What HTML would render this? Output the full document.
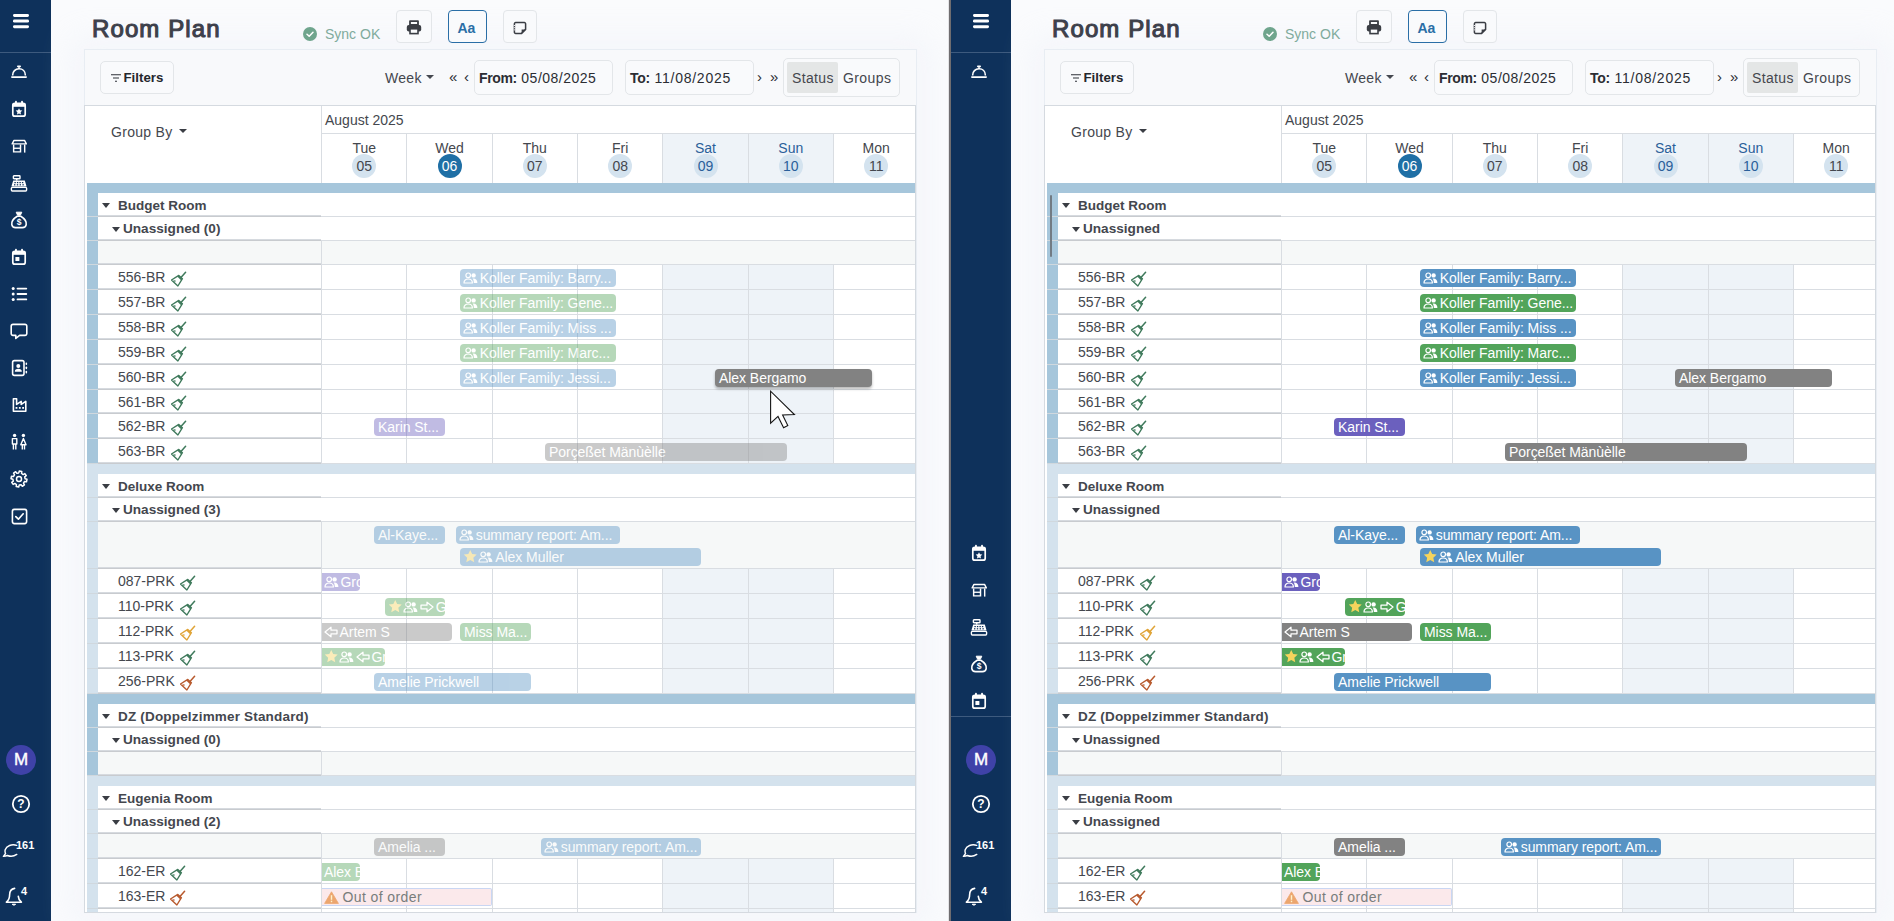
<!DOCTYPE html>
<html lang="en"><head><meta charset="utf-8"><title>Room Plan</title>
<style>
*{box-sizing:border-box;margin:0;padding:0}
html,body{width:1894px;height:921px;overflow:hidden;background:#fafbfd;font-family:"Liberation Sans",sans-serif;color:#44474e;font-size:14px}
.pane{position:absolute;top:0;width:958px;height:921px;overflow:visible}
.a{position:absolute}
.sb{position:absolute;left:-9px;top:0;width:60px;height:921px;background:#0e315b}
.sbl{position:absolute;left:0;width:60px;height:1px;background:#3d5a7e}
.ic{position:absolute;display:block}
.ic svg{display:block}
.t{position:absolute;white-space:nowrap;line-height:20px;height:20px}
.b{font-weight:700}
.btn{position:absolute;border:1px solid #e3e6e9;border-radius:4px;background:#f9fafc}
.card{position:absolute;left:84px;top:49px;width:833px;height:864px;background:#f8f9fb;border:1px solid #e8edf3;box-shadow:0 0 30px 12px rgba(232,236,244,.3)}
.tbl{position:absolute;left:84px;top:105px;width:832px;height:808px;background:#fff;border:1px solid #d5dae0;overflow:hidden}
.in{position:absolute;left:-85px;top:-106px;width:1000px;height:921px}
.hl{position:absolute;height:1px;background:#d9dde2}
.hl2{position:absolute;height:2px;background:linear-gradient(to bottom,#d6dadf 0,#d6dadf 1px,#c8cbcf 1px,#c8cbcf 2px)}
.hl2:before{content:'';position:absolute;left:-11px;top:1px;width:11px;height:1px;background:#d0d8de}
.vl{position:absolute;width:1px;background:#d9dde2}
.bar{position:absolute;height:18px;border-radius:4px;color:#fff;font-size:14px;line-height:19px;white-space:nowrap;overflow:hidden;padding-left:4px;letter-spacing:-.05px}
.bar svg{display:inline-block;vertical-align:-1px;margin-right:2px;margin-left:-.5px}
.bar .s{vertical-align:-1.5px;margin-right:1px;margin-left:0}
.fade .bar{opacity:.42}
.fade .bar.hot{opacity:1;box-shadow:0 2px 3px rgba(0,0,0,.28)}
.fade .bar.ooo{opacity:1}
.num{position:absolute;width:24px;height:24px;border-radius:50%;background:#d4e3ef;font-size:14px;line-height:24px;text-align:center}
.num.on{background:#1f6fa5;color:#fff}
.dn{position:absolute;width:86px;text-align:center;font-size:14px;line-height:16px}
.we{color:#2a5f9a}
.car{position:absolute;width:0;height:0;border-left:4px solid transparent;border-right:4px solid transparent;border-top:5px solid #3a3d44}
</style></head><body>
<div class="pane fade" style="left:0px">
<div class="sb">
<div class="sbl" style="top:52px"></div>
<span class="ic" style="left:21.0px;top:13.0px;width:18px;height:16px"><svg width="18" height="16" viewBox="0 0 18 16" style=""><rect x="1" y="1" width="16" height="3" rx="1.4" fill="#fff"/><rect x="1" y="6.6" width="16" height="3" rx="1.4" fill="#fff"/><rect x="1" y="12.2" width="16" height="3" rx="1.4" fill="#fff"/></svg></span>
<span class="ic" style="left:19.0px;top:64.0px;width:18px;height:16px"><svg width="18" height="16" viewBox="0 0 18 16" style=""><path d="M2.6 11.4 C2.6 7.4 5.4 4.8 9 4.8 C12.6 4.8 15.4 7.4 15.4 11.4" fill="none" stroke="#fff" stroke-width="1.6"/><rect x="1" y="12.2" width="16" height="1.7" rx=".8" fill="#fff"/><rect x="7" y="1.6" width="4" height="1.6" rx=".8" fill="#fff"/><rect x="8.3" y="2" width="1.4" height="3" fill="#fff"/></svg></span>
<span class="ic" style="left:20.0px;top:100.0px;width:16px;height:18px"><svg width="16" height="18" viewBox="0 0 16 18" style=""><rect x="1.8" y="3.4" width="12.4" height="12.8" rx="2" fill="none" stroke="#fff" stroke-width="1.7"/><rect x="1.8" y="3.4" width="12.4" height="3.4" fill="#fff"/><rect x="4" y="0.8" width="1.9" height="4" rx=".9" fill="#fff"/><rect x="10.1" y="0.8" width="1.9" height="4" rx=".9" fill="#fff"/><path d="M8 8.2l1 2.1 2.3.3-1.7 1.6.4 2.3L8 13.4l-2 1.1.4-2.3-1.7-1.6 2.3-.3z" fill="#fff"/></svg></span>
<span class="ic" style="left:19.8px;top:138.8px;width:16.5px;height:14.5px"><svg width="16.5" height="14.5" viewBox="0 0 18 16" style=""><path d="M3.2 1.6 H14.8 L16.8 5.4 H1.2 Z" fill="none" stroke="#fff" stroke-width="1.6" stroke-linejoin="round"/><path d="M2.8 6 V14.2 H10.4 V6" fill="none" stroke="#fff" stroke-width="1.6"/><path d="M2.8 10.2 H10.4" stroke="#fff" stroke-width="1.5"/><path d="M15 6 V15" stroke="#fff" stroke-width="1.6"/></svg></span>
<span class="ic" style="left:19.0px;top:174.5px;width:18px;height:17px"><svg width="18" height="17" viewBox="0 0 18 17" style=""><rect x="3.4" y="0.8" width="6.6" height="3" rx=".6" fill="none" stroke="#fff" stroke-width="1.4"/><rect x="5.9" y="3.6" width="1.6" height="2" fill="#fff"/><path d="M3.2 5.6 H14.8 L16.6 11.6 H1.4 Z" fill="#fff"/><rect x="1.4" y="12.4" width="15.2" height="3.6" rx=".9" fill="none" stroke="#fff" stroke-width="1.4"/><g fill="#0e315b"><rect x="4.4" y="7" width="1.4" height="1.2"/><rect x="6.9" y="7" width="1.4" height="1.2"/><rect x="9.4" y="7" width="1.4" height="1.2"/><rect x="11.9" y="7" width="1.4" height="1.2"/><rect x="4" y="9.2" width="1.4" height="1.2"/><rect x="6.8" y="9.2" width="1.4" height="1.2"/><rect x="9.6" y="9.2" width="1.4" height="1.2"/><rect x="12.4" y="9.2" width="1.4" height="1.2"/></g></svg></span>
<span class="ic" style="left:19.0px;top:211.0px;width:18px;height:18px"><svg width="18" height="18" viewBox="0 0 18 18" style=""><path d="M6.2 1.2 H11.8 L10.4 4.2 H7.6 Z" fill="#fff" stroke="#fff" stroke-width="1" stroke-linejoin="round"/><path d="M7.2 5.2 C3.4 7.6 1.4 11 1.8 13.6 C2.1 15.6 3.6 16.6 5.6 16.6 H12.4 C14.4 16.6 15.9 15.6 16.2 13.6 C16.6 11 14.6 7.6 10.8 5.2 Z" fill="none" stroke="#fff" stroke-width="1.6" stroke-linejoin="round"/><text x="9" y="14.4" font-family="Liberation Sans, sans-serif" font-weight="700" font-size="8.5" text-anchor="middle" fill="#fff">$</text></svg></span>
<span class="ic" style="left:20.0px;top:248.0px;width:16px;height:18px"><svg width="16" height="18" viewBox="0 0 16 18" style=""><rect x="1.8" y="3.4" width="12.4" height="12.8" rx="2" fill="none" stroke="#fff" stroke-width="1.7"/><rect x="1.8" y="3.4" width="12.4" height="3.4" fill="#fff"/><rect x="4" y="0.8" width="1.9" height="4" rx=".9" fill="#fff"/><rect x="10.1" y="0.8" width="1.9" height="4" rx=".9" fill="#fff"/><rect x="4.4" y="9" width="4" height="4" rx=".5" fill="#fff"/></svg></span>
<span class="ic" style="left:19.5px;top:286.0px;width:17px;height:16px"><svg width="17" height="16" viewBox="0 0 17 16" style=""><circle cx="2.2" cy="2.6" r="1.5" fill="#fff"/><rect x="5.6" y="1.7000000000000002" width="10.6" height="1.8" rx=".9" fill="#fff"/><circle cx="2.2" cy="8" r="1.5" fill="#fff"/><rect x="5.6" y="7.1" width="10.6" height="1.8" rx=".9" fill="#fff"/><circle cx="2.2" cy="13.4" r="1.5" fill="#fff"/><rect x="5.6" y="12.5" width="10.6" height="1.8" rx=".9" fill="#fff"/></svg></span>
<span class="ic" style="left:19.0px;top:322.5px;width:18px;height:17px"><svg width="18" height="17" viewBox="0 0 18 17" style=""><path d="M3 1.4 H15 A1.8 1.8 0 0 1 16.8 3.2 V10.6 A1.8 1.8 0 0 1 15 12.4 H9.6 L5.8 15.4 V12.4 H3 A1.8 1.8 0 0 1 1.2 10.6 V3.2 A1.8 1.8 0 0 1 3 1.4 Z" fill="none" stroke="#fff" stroke-width="1.6" stroke-linejoin="round"/></svg></span>
<span class="ic" style="left:19.5px;top:359.0px;width:17px;height:18px"><svg width="17" height="18" viewBox="0 0 17 18" style=""><rect x="1.6" y="1.6" width="11.4" height="14.8" rx="1.8" fill="none" stroke="#fff" stroke-width="1.6"/><circle cx="7.3" cy="7" r="2" fill="#fff"/><path d="M3.8 12.8 C3.8 10.6 5.2 9.8 7.3 9.8 C9.4 9.8 10.8 10.6 10.8 12.8 Z" fill="#fff"/><rect x="14.6" y="3.4" width="1.5" height="2.6" rx=".7" fill="#fff"/><rect x="14.6" y="7.6" width="1.5" height="2.6" rx=".7" fill="#fff"/><rect x="14.6" y="11.8" width="1.5" height="2.6" rx=".7" fill="#fff"/></svg></span>
<span class="ic" style="left:19.5px;top:397.0px;width:17px;height:16px"><svg width="17" height="16" viewBox="0 0 17 16" style=""><path d="M1.4 1.8 H4.6 V7.4 L9.2 4.4 V7.4 L13.8 4.4 V14.2 H1.4 Z" fill="none" stroke="#fff" stroke-width="1.6" stroke-linejoin="round" transform="translate(1,0)"/><rect x="4.6" y="10" width="1.8" height="1.8" fill="#fff"/><rect x="7.9" y="10" width="1.8" height="1.8" fill="#fff"/><rect x="11.2" y="10" width="1.8" height="1.8" fill="#fff"/></svg></span>
<span class="ic" style="left:19.0px;top:433.0px;width:18px;height:18px"><svg width="18" height="18" viewBox="0 0 18 18" style=""><circle cx="4.6" cy="2.4" r="1.7" fill="#fff"/><circle cx="13.4" cy="2.4" r="1.7" fill="#fff"/><path d="M2.4 5.6 H6.8 V11 H2.4 Z M3.4 11 V16.6 M5.8 11 V16.6" fill="none" stroke="#fff" stroke-width="1.4" stroke-linejoin="round"/><path d="M13.4 5.4 L16 11.8 H10.8 Z M12.3 12 V16.6 M14.5 12 V16.6" fill="none" stroke="#fff" stroke-width="1.4" stroke-linejoin="round"/></svg></span>
<span class="ic" style="left:19.0px;top:470.0px;width:18px;height:18px"><svg width="18" height="18" viewBox="0 0 18 18" style=""><path d="M16.99 9.29 L16.50 11.79 L14.55 11.54 L13.47 13.15 L14.45 14.86 L12.33 16.27 L11.13 14.72 L9.22 15.10 L8.71 16.99 L6.21 16.50 L6.46 14.55 L4.85 13.47 L3.14 14.45 L1.73 12.33 L3.28 11.13 L2.90 9.22 L1.01 8.71 L1.50 6.21 L3.45 6.46 L4.53 4.85 L3.55 3.14 L5.67 1.73 L6.87 3.28 L8.78 2.90 L9.29 1.01 L11.79 1.50 L11.54 3.45 L13.15 4.53 L14.86 3.55 L16.27 5.67 L14.72 6.87 L15.10 8.78 Z" fill="none" stroke="#fff" stroke-width="1.5" stroke-linejoin="round"/><circle cx="9" cy="9" r="2.5" fill="none" stroke="#fff" stroke-width="1.5"/></svg></span>
<span class="ic" style="left:19.5px;top:507.5px;width:17px;height:17px"><svg width="17" height="17" viewBox="0 0 17 17" style=""><rect x="1.4" y="1.4" width="14.2" height="14.2" rx="2" fill="none" stroke="#fff" stroke-width="1.6"/><path d="M4.8 8.6 L7.4 11.2 L12.2 5.8" fill="none" stroke="#fff" stroke-width="1.7" stroke-linecap="round" stroke-linejoin="round"/></svg></span>
<div class="a" style="left:15px;top:745px;width:30px;height:30px;border-radius:50%;background:#3f42a8;color:#fff;font-size:17px;line-height:30px;text-align:center;-webkit-text-stroke:.4px #fff">M</div>
<span class="ic" style="left:20.0px;top:794.0px;width:20px;height:20px"><svg width="20" height="20" viewBox="0 0 20 20" style=""><circle cx="10" cy="10" r="8.2" fill="none" stroke="#fff" stroke-width="1.8"/><text x="10" y="14.4" font-family="Liberation Sans, sans-serif" font-weight="700" font-size="12" text-anchor="middle" fill="#fff">?</text></svg></span>
<span class="ic" style="left:10.5px;top:843.0px;width:16px;height:15px"><svg width="16" height="15" viewBox="0 0 18 16" style=""><path d="M16.5 2.2 C11 0.6 5 2.6 3.6 7.2 C3.2 8.8 3.4 10.2 4 11.4 L1.6 14.6 C4 14.6 5.2 14.2 6.2 13.6 C9.4 15 13.4 14.6 16.6 12.4" fill="none" stroke="#fff" stroke-width="1.6" stroke-linecap="round" stroke-linejoin="round"/></svg></span>
<div class="t b" style="left:25px;top:835px;font-size:11px;color:#fff">161</div>
<span class="ic" style="left:14.0px;top:887.0px;width:18px;height:20px"><svg width="18" height="20" viewBox="0 0 18 20" style=""><path d="M9.6 1.4 C6 2 4.6 4.8 4.6 8 C4.6 11.6 3.4 13.6 1.4 15.2 H16.4 C14.4 13.6 13.4 11.8 13.3 9.4" fill="none" stroke="#fff" stroke-width="1.6" stroke-linecap="round" stroke-linejoin="round"/><path d="M7.2 17.2 C7.6 18.4 10.2 18.4 10.6 17.2 Z" fill="#fff" stroke="#fff" stroke-width="1"/></svg></span>
<div class="t b" style="left:30px;top:881px;font-size:11px;color:#fff">4</div>
</div>
<div class="card"></div>
<div class="t" style="left:92px;top:14px;height:30px;line-height:30px;font-size:24px;font-weight:400;color:#3d404b;letter-spacing:1.1px;-webkit-text-stroke:1.1px #3d404b">Room Plan</div>
<span class="ic" style="left:303.0px;top:26.5px;width:14px;height:14px"><svg width="14" height="14" viewBox="0 0 14 14" style=""><circle cx="7" cy="7" r="7" fill="#6fa58d"/><path d="M4 7.2 L6.2 9.3 L10 5.2" fill="none" stroke="#fff" stroke-width="1.5" stroke-linecap="round" stroke-linejoin="round"/></svg></span>
<div class="t " style="left:325px;top:24px;font-size:14px;color:#80ab9c">Sync OK</div>
<div class="btn" style="left:396px;top:10px;width:36px;height:33px"></div>
<span class="ic" style="left:406.0px;top:19.5px;width:16px;height:15px"><svg width="16" height="15" viewBox="0 0 16 15" style=""><path d="M4 1.2 H12 V5 H4 Z" fill="none" stroke="#3a3d44" stroke-width="1.8" stroke-linejoin="round"/><rect x="0.8" y="5" width="14.4" height="6.6" rx="2" fill="#3a3d44"/><rect x="4" y="8.8" width="8" height="4.8" fill="#f9fafc" stroke="#3a3d44" stroke-width="1.6"/></svg></span>
<div class="btn" style="left:448px;top:10px;width:39px;height:33px;border:1.5px solid #2a6ea6;border-radius:4px"></div>
<div class="t b" style="left:457.5px;top:17.5px;font-size:14px;color:#2a6ea6">Aa</div>
<div class="btn" style="left:503px;top:10px;width:34px;height:33px"></div>
<span class="ic" style="left:513.0px;top:21.0px;width:14px;height:14px"><svg width="14" height="14" viewBox="0 0 14 14" style=""><path d="M2.6 1.6 H11.4 A1.2 1.2 0 0 1 12.6 2.8 V8.4 L8.6 12.4 H2.6 A1.2 1.2 0 0 1 1.4 11.2 V2.8 A1.2 1.2 0 0 1 2.6 1.6 Z" fill="none" stroke="#3a3d44" stroke-width="1.5" stroke-linejoin="round"/><path d="M12.6 8.4 H8.6 V12.4 Z" fill="#3a3d44"/><path d="M1.4 4 V10" stroke="#f9fafc" stroke-width="1" stroke-dasharray="1 1.2"/></svg></span>
<div class="btn" style="left:100px;top:61px;width:74px;height:33px;border-radius:5px"></div>
<span class="ic" style="left:111.0px;top:73.5px;width:10px;height:8px"><svg width="10" height="8" viewBox="0 0 10 8" style=""><path d="M0 0.8 H10 M2 4 H8 M4 7.2 H6" stroke="#2f3238" stroke-width="1.1" fill="none"/></svg></span>
<div class="t b" style="left:123.5px;top:68.3px;font-size:13.3px;color:#25272d">Filters</div>
<div class="t " style="left:385px;top:68px;font-size:14px;letter-spacing:.3px">Week</div>
<div class="car" style="left:426px;top:75px;border-top-color:#45484f;border-top-width:4.5px"></div>
<div class="t " style="left:449px;top:66.5px;font-size:15px;color:#2b2d33">«</div>
<div class="t " style="left:464px;top:66.5px;font-size:15px;color:#2b2d33">‹</div>
<div class="btn" style="left:474px;top:60px;width:139px;height:35px;border-radius:5px"></div>
<div class="t" style="left:479px;top:68px;font-size:14px;color:#2b2d33;letter-spacing:.5px"><b style="letter-spacing:-.35px">From:</b> 05/08/2025</div>
<div class="btn" style="left:625px;top:60px;width:129px;height:35px;border-radius:5px"></div>
<div class="t" style="left:630px;top:68px;font-size:14px;color:#2b2d33;letter-spacing:.75px"><b style="letter-spacing:-.3px">To:</b> 11/08/2025</div>
<div class="t " style="left:757px;top:66.5px;font-size:15px;color:#2b2d33">›</div>
<div class="t " style="left:770px;top:66.5px;font-size:15px;color:#2b2d33">»</div>
<div class="btn" style="left:783px;top:58px;width:117px;height:39px;border-radius:5px"></div>
<div class="a" style="left:787px;top:62px;width:51px;height:31px;background:#e4e6e6;border-radius:2px"></div>
<div class="t " style="left:792px;top:68px;font-size:14px;letter-spacing:.35px">Status</div>
<div class="t " style="left:843px;top:68px;font-size:14px;letter-spacing:.4px">Groups</div>
<div class="tbl"><div class="in">
<div class="t " style="left:111px;top:122px;font-size:14px;letter-spacing:.3px">Group By</div>
<div class="car" style="left:179px;top:129px;border-top-width:4.5px"></div>
<div class="vl" style="left:321px;top:106px;height:77px"></div>
<div class="t " style="left:325px;top:109.5px;font-size:14px;">August 2025</div>
<div class="hl" style="left:321px;top:133px;width:600px"></div>
<div class="a" style="left:663.0px;top:134px;width:170.3px;height:49px;background:#eef3f8"></div>
<div class="dn" style="left:321.2px;top:140px">Tue</div>
<div class="num" style="left:352.2px;top:154px">05</div>
<div class="dn" style="left:406.5px;top:140px">Wed</div>
<div class="num on" style="left:437.5px;top:154px">06</div>
<div class="vl" style="left:406px;top:134px;height:49px"></div>
<div class="dn" style="left:491.8px;top:140px">Thu</div>
<div class="num" style="left:522.8px;top:154px">07</div>
<div class="vl" style="left:492px;top:134px;height:49px"></div>
<div class="dn" style="left:577.2px;top:140px">Fri</div>
<div class="num" style="left:608.2px;top:154px">08</div>
<div class="vl" style="left:577px;top:134px;height:49px"></div>
<div class="dn we" style="left:662.5px;top:140px">Sat</div>
<div class="num we" style="left:693.5px;top:154px">09</div>
<div class="vl" style="left:662px;top:134px;height:49px"></div>
<div class="dn we" style="left:747.8px;top:140px">Sun</div>
<div class="num we" style="left:778.8px;top:154px">10</div>
<div class="vl" style="left:748px;top:134px;height:49px"></div>
<div class="dn" style="left:833.2px;top:140px">Mon</div>
<div class="num" style="left:864.2px;top:154px">11</div>
<div class="vl" style="left:833px;top:134px;height:49px"></div>
<div class="a" style="left:87px;top:183px;width:840px;height:10px;background:#a6c6db"></div>
<div class="a" style="left:87px;top:193px;width:11px;height:271px;background:#a6c6db"></div>
<div class="car" style="left:102px;top:203px"></div>
<div class="t b" style="left:118px;top:195.5px;font-size:13.5px;letter-spacing:0px">Budget Room</div>
<div class="hl2" style="left:98px;top:215px;width:223px"></div>
<div class="hl" style="left:321px;top:216px;width:600px"></div>
<div class="car" style="left:112px;top:227px"></div>
<div class="t b" style="left:123px;top:219px;font-size:13.6px;">Unassigned (0)</div>
<div class="hl2" style="left:98px;top:239px;width:223px"></div>
<div class="hl" style="left:321px;top:240px;width:600px"></div>
<div class="a" style="left:98px;top:241px;width:830px;height:23px;background:#f6f8f8"></div>
<div class="vl" style="left:321px;top:241px;height:24px"></div>
<div class="hl2" style="left:98px;top:263px;width:223px"></div>
<div class="hl" style="left:321px;top:264px;width:600px"></div>
<div class="a" style="left:663.0px;top:265px;width:170.3px;height:198px;background:#eef3f8"></div>
<div class="vl" style="left:321px;top:265px;height:198px"></div>
<div class="vl" style="left:406px;top:265px;height:198px"></div>
<div class="vl" style="left:492px;top:265px;height:198px"></div>
<div class="vl" style="left:577px;top:265px;height:198px"></div>
<div class="vl" style="left:662px;top:265px;height:198px"></div>
<div class="vl" style="left:748px;top:265px;height:198px"></div>
<div class="vl" style="left:833px;top:265px;height:198px"></div>
<div class="t" style="left:118px;top:267.0px;font-size:14px">556-BR</div>
<span class="ic" style="left:170.5px;top:270.5px;width:16px;height:16px"><svg width="16" height="16" viewBox="0 0 16 16" style=""><path d="M14.6 1.2 L10.4 6" stroke="#3f7a5c" stroke-width="1.5" stroke-linecap="round" fill="none"/><path d="M7.8 4.4 L11.4 7.7 L6.9 15 L0.5 9 Z" fill="none" stroke="#3f7a5c" stroke-width="1.4" stroke-linejoin="round"/><path d="M7.8 4.4 L11.4 7.7 L10.3 9.6 L6.2 5.6 Z" fill="#3f7a5c"/><path d="M2.6 9.8 L4.6 10.2" stroke="#3f7a5c" stroke-width="1.2" fill="none"/></svg></span>
<div class="hl2" style="left:98px;top:288px;width:223px"></div>
<div class="hl" style="left:321px;top:289px;width:600px"></div>
<div class="bar " style="left:460px;top:269px;width:156px;background:#5893c4;padding-left:3.2px;"><svg width="15" height="12" viewBox="0 0 15 12" style=""><circle cx="5.2" cy="3.3" r="2.3" fill="none" stroke="#fff" stroke-width="1.2"/><path d="M1 11 C1 8.2 2.8 7 5.2 7 C7.6 7 9.4 8.2 9.4 11 Z" fill="none" stroke="#fff" stroke-width="1.2" stroke-linejoin="round"/><circle cx="10.6" cy="3.4" r="2.2" fill="#fff"/><path d="M9.6 6.6 C12.6 6.2 14.4 8 14.4 11 L10.8 11 C10.8 9 10.4 7.6 9.6 6.6 Z" fill="#fff"/></svg>Koller Family: Barry...</div>
<div class="t" style="left:118px;top:292.0px;font-size:14px">557-BR</div>
<span class="ic" style="left:170.5px;top:295.5px;width:16px;height:16px"><svg width="16" height="16" viewBox="0 0 16 16" style=""><path d="M14.6 1.2 L10.4 6" stroke="#3f7a5c" stroke-width="1.5" stroke-linecap="round" fill="none"/><path d="M7.8 4.4 L11.4 7.7 L6.9 15 L0.5 9 Z" fill="none" stroke="#3f7a5c" stroke-width="1.4" stroke-linejoin="round"/><path d="M7.8 4.4 L11.4 7.7 L10.3 9.6 L6.2 5.6 Z" fill="#3f7a5c"/><path d="M2.6 9.8 L4.6 10.2" stroke="#3f7a5c" stroke-width="1.2" fill="none"/></svg></span>
<div class="hl2" style="left:98px;top:313px;width:223px"></div>
<div class="hl" style="left:321px;top:314px;width:600px"></div>
<div class="bar " style="left:460px;top:294px;width:156px;background:#52a45a;padding-left:3.2px;"><svg width="15" height="12" viewBox="0 0 15 12" style=""><circle cx="5.2" cy="3.3" r="2.3" fill="none" stroke="#fff" stroke-width="1.2"/><path d="M1 11 C1 8.2 2.8 7 5.2 7 C7.6 7 9.4 8.2 9.4 11 Z" fill="none" stroke="#fff" stroke-width="1.2" stroke-linejoin="round"/><circle cx="10.6" cy="3.4" r="2.2" fill="#fff"/><path d="M9.6 6.6 C12.6 6.2 14.4 8 14.4 11 L10.8 11 C10.8 9 10.4 7.6 9.6 6.6 Z" fill="#fff"/></svg>Koller Family: Gene...</div>
<div class="t" style="left:118px;top:317.0px;font-size:14px">558-BR</div>
<span class="ic" style="left:170.5px;top:320.5px;width:16px;height:16px"><svg width="16" height="16" viewBox="0 0 16 16" style=""><path d="M14.6 1.2 L10.4 6" stroke="#3f7a5c" stroke-width="1.5" stroke-linecap="round" fill="none"/><path d="M7.8 4.4 L11.4 7.7 L6.9 15 L0.5 9 Z" fill="none" stroke="#3f7a5c" stroke-width="1.4" stroke-linejoin="round"/><path d="M7.8 4.4 L11.4 7.7 L10.3 9.6 L6.2 5.6 Z" fill="#3f7a5c"/><path d="M2.6 9.8 L4.6 10.2" stroke="#3f7a5c" stroke-width="1.2" fill="none"/></svg></span>
<div class="hl2" style="left:98px;top:338px;width:223px"></div>
<div class="hl" style="left:321px;top:339px;width:600px"></div>
<div class="bar " style="left:460px;top:319px;width:156px;background:#5893c4;padding-left:3.2px;"><svg width="15" height="12" viewBox="0 0 15 12" style=""><circle cx="5.2" cy="3.3" r="2.3" fill="none" stroke="#fff" stroke-width="1.2"/><path d="M1 11 C1 8.2 2.8 7 5.2 7 C7.6 7 9.4 8.2 9.4 11 Z" fill="none" stroke="#fff" stroke-width="1.2" stroke-linejoin="round"/><circle cx="10.6" cy="3.4" r="2.2" fill="#fff"/><path d="M9.6 6.6 C12.6 6.2 14.4 8 14.4 11 L10.8 11 C10.8 9 10.4 7.6 9.6 6.6 Z" fill="#fff"/></svg>Koller Family: Miss ...</div>
<div class="t" style="left:118px;top:342.0px;font-size:14px">559-BR</div>
<span class="ic" style="left:170.5px;top:345.5px;width:16px;height:16px"><svg width="16" height="16" viewBox="0 0 16 16" style=""><path d="M14.6 1.2 L10.4 6" stroke="#3f7a5c" stroke-width="1.5" stroke-linecap="round" fill="none"/><path d="M7.8 4.4 L11.4 7.7 L6.9 15 L0.5 9 Z" fill="none" stroke="#3f7a5c" stroke-width="1.4" stroke-linejoin="round"/><path d="M7.8 4.4 L11.4 7.7 L10.3 9.6 L6.2 5.6 Z" fill="#3f7a5c"/><path d="M2.6 9.8 L4.6 10.2" stroke="#3f7a5c" stroke-width="1.2" fill="none"/></svg></span>
<div class="hl2" style="left:98px;top:363px;width:223px"></div>
<div class="hl" style="left:321px;top:364px;width:600px"></div>
<div class="bar " style="left:460px;top:344px;width:156px;background:#52a45a;padding-left:3.2px;"><svg width="15" height="12" viewBox="0 0 15 12" style=""><circle cx="5.2" cy="3.3" r="2.3" fill="none" stroke="#fff" stroke-width="1.2"/><path d="M1 11 C1 8.2 2.8 7 5.2 7 C7.6 7 9.4 8.2 9.4 11 Z" fill="none" stroke="#fff" stroke-width="1.2" stroke-linejoin="round"/><circle cx="10.6" cy="3.4" r="2.2" fill="#fff"/><path d="M9.6 6.6 C12.6 6.2 14.4 8 14.4 11 L10.8 11 C10.8 9 10.4 7.6 9.6 6.6 Z" fill="#fff"/></svg>Koller Family: Marc...</div>
<div class="t" style="left:118px;top:367.0px;font-size:14px">560-BR</div>
<span class="ic" style="left:170.5px;top:370.5px;width:16px;height:16px"><svg width="16" height="16" viewBox="0 0 16 16" style=""><path d="M14.6 1.2 L10.4 6" stroke="#3f7a5c" stroke-width="1.5" stroke-linecap="round" fill="none"/><path d="M7.8 4.4 L11.4 7.7 L6.9 15 L0.5 9 Z" fill="none" stroke="#3f7a5c" stroke-width="1.4" stroke-linejoin="round"/><path d="M7.8 4.4 L11.4 7.7 L10.3 9.6 L6.2 5.6 Z" fill="#3f7a5c"/><path d="M2.6 9.8 L4.6 10.2" stroke="#3f7a5c" stroke-width="1.2" fill="none"/></svg></span>
<div class="hl2" style="left:98px;top:388px;width:223px"></div>
<div class="hl" style="left:321px;top:389px;width:600px"></div>
<div class="bar " style="left:460px;top:369px;width:156px;background:#5893c4;padding-left:3.2px;"><svg width="15" height="12" viewBox="0 0 15 12" style=""><circle cx="5.2" cy="3.3" r="2.3" fill="none" stroke="#fff" stroke-width="1.2"/><path d="M1 11 C1 8.2 2.8 7 5.2 7 C7.6 7 9.4 8.2 9.4 11 Z" fill="none" stroke="#fff" stroke-width="1.2" stroke-linejoin="round"/><circle cx="10.6" cy="3.4" r="2.2" fill="#fff"/><path d="M9.6 6.6 C12.6 6.2 14.4 8 14.4 11 L10.8 11 C10.8 9 10.4 7.6 9.6 6.6 Z" fill="#fff"/></svg>Koller Family: Jessi...</div>
<div class="bar hot" style="left:715px;top:369px;width:157px;background:#828282;">Alex Bergamo</div>
<div class="t" style="left:118px;top:391.5px;font-size:14px">561-BR</div>
<span class="ic" style="left:170.5px;top:395.0px;width:16px;height:16px"><svg width="16" height="16" viewBox="0 0 16 16" style=""><path d="M14.6 1.2 L10.4 6" stroke="#3f7a5c" stroke-width="1.5" stroke-linecap="round" fill="none"/><path d="M7.8 4.4 L11.4 7.7 L6.9 15 L0.5 9 Z" fill="none" stroke="#3f7a5c" stroke-width="1.4" stroke-linejoin="round"/><path d="M7.8 4.4 L11.4 7.7 L10.3 9.6 L6.2 5.6 Z" fill="#3f7a5c"/><path d="M2.6 9.8 L4.6 10.2" stroke="#3f7a5c" stroke-width="1.2" fill="none"/></svg></span>
<div class="hl2" style="left:98px;top:412px;width:223px"></div>
<div class="hl" style="left:321px;top:413px;width:600px"></div>
<div class="t" style="left:118px;top:416.0px;font-size:14px">562-BR</div>
<span class="ic" style="left:170.5px;top:419.5px;width:16px;height:16px"><svg width="16" height="16" viewBox="0 0 16 16" style=""><path d="M14.6 1.2 L10.4 6" stroke="#3f7a5c" stroke-width="1.5" stroke-linecap="round" fill="none"/><path d="M7.8 4.4 L11.4 7.7 L6.9 15 L0.5 9 Z" fill="none" stroke="#3f7a5c" stroke-width="1.4" stroke-linejoin="round"/><path d="M7.8 4.4 L11.4 7.7 L10.3 9.6 L6.2 5.6 Z" fill="#3f7a5c"/><path d="M2.6 9.8 L4.6 10.2" stroke="#3f7a5c" stroke-width="1.2" fill="none"/></svg></span>
<div class="hl2" style="left:98px;top:437px;width:223px"></div>
<div class="hl" style="left:321px;top:438px;width:600px"></div>
<div class="bar " style="left:374px;top:418px;width:71px;background:#6b60be;">Karin St...</div>
<div class="t" style="left:118px;top:441.0px;font-size:14px">563-BR</div>
<span class="ic" style="left:170.5px;top:444.5px;width:16px;height:16px"><svg width="16" height="16" viewBox="0 0 16 16" style=""><path d="M14.6 1.2 L10.4 6" stroke="#3f7a5c" stroke-width="1.5" stroke-linecap="round" fill="none"/><path d="M7.8 4.4 L11.4 7.7 L6.9 15 L0.5 9 Z" fill="none" stroke="#3f7a5c" stroke-width="1.4" stroke-linejoin="round"/><path d="M7.8 4.4 L11.4 7.7 L10.3 9.6 L6.2 5.6 Z" fill="#3f7a5c"/><path d="M2.6 9.8 L4.6 10.2" stroke="#3f7a5c" stroke-width="1.2" fill="none"/></svg></span>
<div class="hl2" style="left:98px;top:462px;width:223px"></div>
<div class="hl" style="left:321px;top:463px;width:600px"></div>
<div class="bar " style="left:545px;top:443px;width:242px;background:#828282;">Porçeßet Mänùèlle</div>
<div class="a" style="left:87px;top:464px;width:840px;height:10px;background:#d4e2ed"></div>
<div class="a" style="left:87px;top:474px;width:11px;height:220px;background:#d4e2ed"></div>
<div class="car" style="left:102px;top:484px"></div>
<div class="t b" style="left:118px;top:476.5px;font-size:13.5px;letter-spacing:0px">Deluxe Room</div>
<div class="hl2" style="left:98px;top:496px;width:223px"></div>
<div class="hl" style="left:321px;top:497px;width:600px"></div>
<div class="car" style="left:112px;top:508px"></div>
<div class="t b" style="left:123px;top:500px;font-size:13.6px;">Unassigned (3)</div>
<div class="hl2" style="left:98px;top:520px;width:223px"></div>
<div class="hl" style="left:321px;top:521px;width:600px"></div>
<div class="a" style="left:98px;top:522px;width:830px;height:46px;background:#f6f8f8"></div>
<div class="vl" style="left:321px;top:522px;height:47px"></div>
<div class="hl2" style="left:98px;top:567px;width:223px"></div>
<div class="hl" style="left:321px;top:568px;width:600px"></div>
<div class="bar " style="left:374px;top:526px;width:71px;background:#5893c4;">Al-Kaye...</div>
<div class="bar " style="left:456px;top:526px;width:164px;background:#5893c4;padding-left:3.2px;"><svg width="15" height="12" viewBox="0 0 15 12" style=""><circle cx="5.2" cy="3.3" r="2.3" fill="none" stroke="#fff" stroke-width="1.2"/><path d="M1 11 C1 8.2 2.8 7 5.2 7 C7.6 7 9.4 8.2 9.4 11 Z" fill="none" stroke="#fff" stroke-width="1.2" stroke-linejoin="round"/><circle cx="10.6" cy="3.4" r="2.2" fill="#fff"/><path d="M9.6 6.6 C12.6 6.2 14.4 8 14.4 11 L10.8 11 C10.8 9 10.4 7.6 9.6 6.6 Z" fill="#fff"/></svg>summary report: Am...</div>
<div class="bar " style="left:460px;top:548px;width:241px;background:#5893c4;padding-left:3.2px;"><svg class="s" width="14.5" height="14.5" viewBox="0 0 24 24" style=""><path d="M12 1.5l3.2 6.9 7.5.9-5.6 5.1 1.5 7.4L12 18.1 5.4 21.8l1.5-7.4L1.3 9.3l7.5-.9z" fill="#f6d45c"/></svg><svg width="15" height="12" viewBox="0 0 15 12" style=""><circle cx="5.2" cy="3.3" r="2.3" fill="none" stroke="#fff" stroke-width="1.2"/><path d="M1 11 C1 8.2 2.8 7 5.2 7 C7.6 7 9.4 8.2 9.4 11 Z" fill="none" stroke="#fff" stroke-width="1.2" stroke-linejoin="round"/><circle cx="10.6" cy="3.4" r="2.2" fill="#fff"/><path d="M9.6 6.6 C12.6 6.2 14.4 8 14.4 11 L10.8 11 C10.8 9 10.4 7.6 9.6 6.6 Z" fill="#fff"/></svg>Alex Muller</div>
<div class="a" style="left:663.0px;top:569px;width:170.3px;height:124px;background:#eef3f8"></div>
<div class="vl" style="left:321px;top:569px;height:124px"></div>
<div class="vl" style="left:406px;top:569px;height:124px"></div>
<div class="vl" style="left:492px;top:569px;height:124px"></div>
<div class="vl" style="left:577px;top:569px;height:124px"></div>
<div class="vl" style="left:662px;top:569px;height:124px"></div>
<div class="vl" style="left:748px;top:569px;height:124px"></div>
<div class="vl" style="left:833px;top:569px;height:124px"></div>
<div class="t" style="left:118px;top:571.0px;font-size:14px">087-PRK</div>
<span class="ic" style="left:179.5px;top:574.5px;width:16px;height:16px"><svg width="16" height="16" viewBox="0 0 16 16" style=""><path d="M14.6 1.2 L10.4 6" stroke="#3f7a5c" stroke-width="1.5" stroke-linecap="round" fill="none"/><path d="M7.8 4.4 L11.4 7.7 L6.9 15 L0.5 9 Z" fill="none" stroke="#3f7a5c" stroke-width="1.4" stroke-linejoin="round"/><path d="M7.8 4.4 L11.4 7.7 L10.3 9.6 L6.2 5.6 Z" fill="#3f7a5c"/><path d="M2.6 9.8 L4.6 10.2" stroke="#3f7a5c" stroke-width="1.2" fill="none"/></svg></span>
<div class="hl2" style="left:98px;top:592px;width:223px"></div>
<div class="hl" style="left:321px;top:593px;width:600px"></div>
<div class="bar " style="left:322px;top:573px;width:38px;background:#6b60be;padding-left:3.2px;border-top-left-radius:0;border-bottom-left-radius:0;padding-left:2px;"><svg width="15" height="12" viewBox="0 0 15 12" style=""><circle cx="5.2" cy="3.3" r="2.3" fill="none" stroke="#fff" stroke-width="1.2"/><path d="M1 11 C1 8.2 2.8 7 5.2 7 C7.6 7 9.4 8.2 9.4 11 Z" fill="none" stroke="#fff" stroke-width="1.2" stroke-linejoin="round"/><circle cx="10.6" cy="3.4" r="2.2" fill="#fff"/><path d="M9.6 6.6 C12.6 6.2 14.4 8 14.4 11 L10.8 11 C10.8 9 10.4 7.6 9.6 6.6 Z" fill="#fff"/></svg>Gro</div>
<div class="t" style="left:118px;top:596.0px;font-size:14px">110-PRK</div>
<span class="ic" style="left:179.5px;top:599.5px;width:16px;height:16px"><svg width="16" height="16" viewBox="0 0 16 16" style=""><path d="M14.6 1.2 L10.4 6" stroke="#3f7a5c" stroke-width="1.5" stroke-linecap="round" fill="none"/><path d="M7.8 4.4 L11.4 7.7 L6.9 15 L0.5 9 Z" fill="none" stroke="#3f7a5c" stroke-width="1.4" stroke-linejoin="round"/><path d="M7.8 4.4 L11.4 7.7 L10.3 9.6 L6.2 5.6 Z" fill="#3f7a5c"/><path d="M2.6 9.8 L4.6 10.2" stroke="#3f7a5c" stroke-width="1.2" fill="none"/></svg></span>
<div class="hl2" style="left:98px;top:617px;width:223px"></div>
<div class="hl" style="left:321px;top:618px;width:600px"></div>
<div class="bar " style="left:385px;top:598px;width:60px;background:#52a45a;padding-left:3.2px;"><svg class="s" width="14.5" height="14.5" viewBox="0 0 24 24" style=""><path d="M12 1.5l3.2 6.9 7.5.9-5.6 5.1 1.5 7.4L12 18.1 5.4 21.8l1.5-7.4L1.3 9.3l7.5-.9z" fill="#f6d45c"/></svg><svg width="15" height="12" viewBox="0 0 15 12" style=""><circle cx="5.2" cy="3.3" r="2.3" fill="none" stroke="#fff" stroke-width="1.2"/><path d="M1 11 C1 8.2 2.8 7 5.2 7 C7.6 7 9.4 8.2 9.4 11 Z" fill="none" stroke="#fff" stroke-width="1.2" stroke-linejoin="round"/><circle cx="10.6" cy="3.4" r="2.2" fill="#fff"/><path d="M9.6 6.6 C12.6 6.2 14.4 8 14.4 11 L10.8 11 C10.8 9 10.4 7.6 9.6 6.6 Z" fill="#fff"/></svg><svg width="14" height="12" viewBox="0 0 14 12" style=""><path d="M1 4.2h6V1.2l6 4.8-6 4.8V7.8H1z" fill="none" stroke="#fff" stroke-width="1.3" stroke-linejoin="round"/></svg>G</div>
<div class="t" style="left:118px;top:621.0px;font-size:14px">112-PRK</div>
<span class="ic" style="left:179.5px;top:624.5px;width:16px;height:16px"><svg width="16" height="16" viewBox="0 0 16 16" style=""><path d="M14.6 1.2 L10.4 6" stroke="#e0a437" stroke-width="1.5" stroke-linecap="round" fill="none"/><path d="M7.8 4.4 L11.4 7.7 L6.9 15 L0.5 9 Z" fill="none" stroke="#e0a437" stroke-width="1.4" stroke-linejoin="round"/><path d="M7.8 4.4 L11.4 7.7 L10.3 9.6 L6.2 5.6 Z" fill="#e0a437"/><path d="M2.6 9.8 L4.6 10.2" stroke="#e0a437" stroke-width="1.2" fill="none"/></svg></span>
<div class="hl2" style="left:98px;top:642px;width:223px"></div>
<div class="hl" style="left:321px;top:643px;width:600px"></div>
<div class="bar " style="left:322px;top:623px;width:130px;background:#828282;padding-left:3.2px;border-top-left-radius:0;border-bottom-left-radius:0;padding-left:2px;"><svg width="14" height="12" viewBox="0 0 14 12" style=""><path d="M13 4.2H7V1.2L1 6l6 4.8V7.8h6z" fill="none" stroke="#fff" stroke-width="1.3" stroke-linejoin="round"/></svg>Artem S</div>
<div class="bar " style="left:460px;top:623px;width:71px;background:#52a45a;">Miss Ma...</div>
<div class="t" style="left:118px;top:646.0px;font-size:14px">113-PRK</div>
<span class="ic" style="left:179.5px;top:649.5px;width:16px;height:16px"><svg width="16" height="16" viewBox="0 0 16 16" style=""><path d="M14.6 1.2 L10.4 6" stroke="#3f7a5c" stroke-width="1.5" stroke-linecap="round" fill="none"/><path d="M7.8 4.4 L11.4 7.7 L6.9 15 L0.5 9 Z" fill="none" stroke="#3f7a5c" stroke-width="1.4" stroke-linejoin="round"/><path d="M7.8 4.4 L11.4 7.7 L10.3 9.6 L6.2 5.6 Z" fill="#3f7a5c"/><path d="M2.6 9.8 L4.6 10.2" stroke="#3f7a5c" stroke-width="1.2" fill="none"/></svg></span>
<div class="hl2" style="left:98px;top:667px;width:223px"></div>
<div class="hl" style="left:321px;top:668px;width:600px"></div>
<div class="bar " style="left:322px;top:648px;width:63px;background:#52a45a;padding-left:3.2px;border-top-left-radius:0;border-bottom-left-radius:0;padding-left:2px;"><svg class="s" width="14.5" height="14.5" viewBox="0 0 24 24" style=""><path d="M12 1.5l3.2 6.9 7.5.9-5.6 5.1 1.5 7.4L12 18.1 5.4 21.8l1.5-7.4L1.3 9.3l7.5-.9z" fill="#f6d45c"/></svg><svg width="15" height="12" viewBox="0 0 15 12" style=""><circle cx="5.2" cy="3.3" r="2.3" fill="none" stroke="#fff" stroke-width="1.2"/><path d="M1 11 C1 8.2 2.8 7 5.2 7 C7.6 7 9.4 8.2 9.4 11 Z" fill="none" stroke="#fff" stroke-width="1.2" stroke-linejoin="round"/><circle cx="10.6" cy="3.4" r="2.2" fill="#fff"/><path d="M9.6 6.6 C12.6 6.2 14.4 8 14.4 11 L10.8 11 C10.8 9 10.4 7.6 9.6 6.6 Z" fill="#fff"/></svg><svg width="14" height="12" viewBox="0 0 14 12" style=""><path d="M13 4.2H7V1.2L1 6l6 4.8V7.8h6z" fill="none" stroke="#fff" stroke-width="1.3" stroke-linejoin="round"/></svg>Gr</div>
<div class="t" style="left:118px;top:671.0px;font-size:14px">256-PRK</div>
<span class="ic" style="left:179.5px;top:674.5px;width:16px;height:16px"><svg width="16" height="16" viewBox="0 0 16 16" style=""><path d="M14.6 1.2 L10.4 6" stroke="#b85a2e" stroke-width="1.5" stroke-linecap="round" fill="none"/><path d="M7.8 4.4 L11.4 7.7 L6.9 15 L0.5 9 Z" fill="none" stroke="#b85a2e" stroke-width="1.4" stroke-linejoin="round"/><path d="M7.8 4.4 L11.4 7.7 L10.3 9.6 L6.2 5.6 Z" fill="#b85a2e"/><path d="M2.6 9.8 L4.6 10.2" stroke="#b85a2e" stroke-width="1.2" fill="none"/></svg></span>
<div class="hl2" style="left:98px;top:692px;width:223px"></div>
<div class="hl" style="left:321px;top:693px;width:600px"></div>
<div class="bar " style="left:374px;top:673px;width:157px;background:#5893c4;">Amelie Prickwell</div>
<div class="a" style="left:87px;top:694px;width:840px;height:10px;background:#a6c6db"></div>
<div class="a" style="left:87px;top:704px;width:11px;height:72px;background:#a6c6db"></div>
<div class="car" style="left:102px;top:714px"></div>
<div class="t b" style="left:118px;top:706.5px;font-size:13.5px;letter-spacing:0.18px">DZ (Doppelzimmer Standard)</div>
<div class="hl2" style="left:98px;top:726px;width:223px"></div>
<div class="hl" style="left:321px;top:727px;width:600px"></div>
<div class="car" style="left:112px;top:738px"></div>
<div class="t b" style="left:123px;top:730px;font-size:13.6px;">Unassigned (0)</div>
<div class="hl2" style="left:98px;top:750px;width:223px"></div>
<div class="hl" style="left:321px;top:751px;width:600px"></div>
<div class="a" style="left:98px;top:752px;width:830px;height:23px;background:#f6f8f8"></div>
<div class="vl" style="left:321px;top:752px;height:24px"></div>
<div class="hl2" style="left:98px;top:774px;width:223px"></div>
<div class="hl" style="left:321px;top:775px;width:600px"></div>
<div class="a" style="left:87px;top:776px;width:840px;height:10px;background:#d4e2ed"></div>
<div class="a" style="left:87px;top:786px;width:11px;height:136px;background:#d4e2ed"></div>
<div class="car" style="left:102px;top:796px"></div>
<div class="t b" style="left:118px;top:788.5px;font-size:13.5px;letter-spacing:0px">Eugenia Room</div>
<div class="hl2" style="left:98px;top:808px;width:223px"></div>
<div class="hl" style="left:321px;top:809px;width:600px"></div>
<div class="car" style="left:112px;top:820px"></div>
<div class="t b" style="left:123px;top:812px;font-size:13.6px;">Unassigned (2)</div>
<div class="hl2" style="left:98px;top:832px;width:223px"></div>
<div class="hl" style="left:321px;top:833px;width:600px"></div>
<div class="a" style="left:98px;top:834px;width:830px;height:24px;background:#f6f8f8"></div>
<div class="vl" style="left:321px;top:834px;height:25px"></div>
<div class="hl2" style="left:98px;top:857px;width:223px"></div>
<div class="hl" style="left:321px;top:858px;width:600px"></div>
<div class="bar " style="left:374px;top:838px;width:71px;background:#828282;">Amelia ...</div>
<div class="bar " style="left:541px;top:838px;width:160px;background:#5893c4;padding-left:3.2px;"><svg width="15" height="12" viewBox="0 0 15 12" style=""><circle cx="5.2" cy="3.3" r="2.3" fill="none" stroke="#fff" stroke-width="1.2"/><path d="M1 11 C1 8.2 2.8 7 5.2 7 C7.6 7 9.4 8.2 9.4 11 Z" fill="none" stroke="#fff" stroke-width="1.2" stroke-linejoin="round"/><circle cx="10.6" cy="3.4" r="2.2" fill="#fff"/><path d="M9.6 6.6 C12.6 6.2 14.4 8 14.4 11 L10.8 11 C10.8 9 10.4 7.6 9.6 6.6 Z" fill="#fff"/></svg>summary report: Am...</div>
<div class="a" style="left:663.0px;top:859px;width:170.3px;height:62px;background:#eef3f8"></div>
<div class="vl" style="left:321px;top:859px;height:62px"></div>
<div class="vl" style="left:406px;top:859px;height:62px"></div>
<div class="vl" style="left:492px;top:859px;height:62px"></div>
<div class="vl" style="left:577px;top:859px;height:62px"></div>
<div class="vl" style="left:662px;top:859px;height:62px"></div>
<div class="vl" style="left:748px;top:859px;height:62px"></div>
<div class="vl" style="left:833px;top:859px;height:62px"></div>
<div class="t" style="left:118px;top:861.0px;font-size:14px">162-ER</div>
<span class="ic" style="left:169.5px;top:864.5px;width:16px;height:16px"><svg width="16" height="16" viewBox="0 0 16 16" style=""><path d="M14.6 1.2 L10.4 6" stroke="#3f7a5c" stroke-width="1.5" stroke-linecap="round" fill="none"/><path d="M7.8 4.4 L11.4 7.7 L6.9 15 L0.5 9 Z" fill="none" stroke="#3f7a5c" stroke-width="1.4" stroke-linejoin="round"/><path d="M7.8 4.4 L11.4 7.7 L10.3 9.6 L6.2 5.6 Z" fill="#3f7a5c"/><path d="M2.6 9.8 L4.6 10.2" stroke="#3f7a5c" stroke-width="1.2" fill="none"/></svg></span>
<div class="hl2" style="left:98px;top:882px;width:223px"></div>
<div class="hl" style="left:321px;top:883px;width:600px"></div>
<div class="bar " style="left:322px;top:863px;width:38px;background:#52a45a;border-top-left-radius:0;border-bottom-left-radius:0;padding-left:2px;">Alex B</div>
<div class="t" style="left:118px;top:886.0px;font-size:14px">163-ER</div>
<span class="ic" style="left:169.5px;top:889.5px;width:16px;height:16px"><svg width="16" height="16" viewBox="0 0 16 16" style=""><path d="M14.6 1.2 L10.4 6" stroke="#b85a2e" stroke-width="1.5" stroke-linecap="round" fill="none"/><path d="M7.8 4.4 L11.4 7.7 L6.9 15 L0.5 9 Z" fill="none" stroke="#b85a2e" stroke-width="1.4" stroke-linejoin="round"/><path d="M7.8 4.4 L11.4 7.7 L10.3 9.6 L6.2 5.6 Z" fill="#b85a2e"/><path d="M2.6 9.8 L4.6 10.2" stroke="#b85a2e" stroke-width="1.2" fill="none"/></svg></span>
<div class="hl2" style="left:98px;top:907px;width:223px"></div>
<div class="hl" style="left:321px;top:908px;width:600px"></div>
<div class="bar ooo" style="left:322px;top:888px;width:170px;height:18px;background:#fbe9eb;border:1px solid #c9d6f3;border-left:none;border-radius:0 2px 2px 0;color:#787d7b;padding-left:2px;line-height:16px;letter-spacing:.4px"><svg style=vertical-align:-2px;margin-right:4px width="15" height="13" viewBox="0 0 15 13" style=""><path d="M7.5 0.8 L14.4 12.4 H0.6 Z" fill="#eca66f" stroke="#eca66f" stroke-width="0.8" stroke-linejoin="round"/><rect x="6.8" y="4.2" width="1.4" height="4.6" fill="#fdf3cc"/><rect x="6.8" y="9.7" width="1.4" height="1.5" fill="#fdf3cc"/></svg>Out of order</div>
<div class="hl2" style="left:98px;top:932px;width:223px"></div>
<div class="hl" style="left:321px;top:933px;width:600px"></div>
</div></div>
<svg class="a" style="left:760px;top:380px" width="50" height="60" viewBox="760 380 50 60"><path d="M770.6 391.2 L770.6 423.2 L778 416.4 L783.6 427.8 L787.8 425.6 L782.6 415 L794.4 414.6 Z" fill="#fff" stroke="#151515" stroke-width="1.1" stroke-linejoin="miter"/></svg>
</div>
<div class="a" style="left:948px;top:0;width:1px;height:921px;background:#e3e3e6"></div><div class="a" style="left:949px;top:0;width:2px;height:921px;background:#6f6d70"></div>
<div class="pane" style="left:960px">
<div class="sb">
<div class="sbl" style="top:52px"></div>
<span class="ic" style="left:21.0px;top:13.0px;width:18px;height:16px"><svg width="18" height="16" viewBox="0 0 18 16" style=""><rect x="1" y="1" width="16" height="3" rx="1.4" fill="#fff"/><rect x="1" y="6.6" width="16" height="3" rx="1.4" fill="#fff"/><rect x="1" y="12.2" width="16" height="3" rx="1.4" fill="#fff"/></svg></span>
<span class="ic" style="left:19.0px;top:64.0px;width:18px;height:16px"><svg width="18" height="16" viewBox="0 0 18 16" style=""><path d="M2.6 11.4 C2.6 7.4 5.4 4.8 9 4.8 C12.6 4.8 15.4 7.4 15.4 11.4" fill="none" stroke="#fff" stroke-width="1.6"/><rect x="1" y="12.2" width="16" height="1.7" rx=".8" fill="#fff"/><rect x="7" y="1.6" width="4" height="1.6" rx=".8" fill="#fff"/><rect x="8.3" y="2" width="1.4" height="3" fill="#fff"/></svg></span>
<div class="sbl" style="top:716px"></div>
<span class="ic" style="left:20.0px;top:544.0px;width:16px;height:18px"><svg width="16" height="18" viewBox="0 0 16 18" style=""><rect x="1.8" y="3.4" width="12.4" height="12.8" rx="2" fill="none" stroke="#fff" stroke-width="1.7"/><rect x="1.8" y="3.4" width="12.4" height="3.4" fill="#fff"/><rect x="4" y="0.8" width="1.9" height="4" rx=".9" fill="#fff"/><rect x="10.1" y="0.8" width="1.9" height="4" rx=".9" fill="#fff"/><path d="M8 8.2l1 2.1 2.3.3-1.7 1.6.4 2.3L8 13.4l-2 1.1.4-2.3-1.7-1.6 2.3-.3z" fill="#fff"/></svg></span>
<span class="ic" style="left:19.8px;top:582.8px;width:16.5px;height:14.5px"><svg width="16.5" height="14.5" viewBox="0 0 18 16" style=""><path d="M3.2 1.6 H14.8 L16.8 5.4 H1.2 Z" fill="none" stroke="#fff" stroke-width="1.6" stroke-linejoin="round"/><path d="M2.8 6 V14.2 H10.4 V6" fill="none" stroke="#fff" stroke-width="1.6"/><path d="M2.8 10.2 H10.4" stroke="#fff" stroke-width="1.5"/><path d="M15 6 V15" stroke="#fff" stroke-width="1.6"/></svg></span>
<span class="ic" style="left:19.0px;top:618.5px;width:18px;height:17px"><svg width="18" height="17" viewBox="0 0 18 17" style=""><rect x="3.4" y="0.8" width="6.6" height="3" rx=".6" fill="none" stroke="#fff" stroke-width="1.4"/><rect x="5.9" y="3.6" width="1.6" height="2" fill="#fff"/><path d="M3.2 5.6 H14.8 L16.6 11.6 H1.4 Z" fill="#fff"/><rect x="1.4" y="12.4" width="15.2" height="3.6" rx=".9" fill="none" stroke="#fff" stroke-width="1.4"/><g fill="#0e315b"><rect x="4.4" y="7" width="1.4" height="1.2"/><rect x="6.9" y="7" width="1.4" height="1.2"/><rect x="9.4" y="7" width="1.4" height="1.2"/><rect x="11.9" y="7" width="1.4" height="1.2"/><rect x="4" y="9.2" width="1.4" height="1.2"/><rect x="6.8" y="9.2" width="1.4" height="1.2"/><rect x="9.6" y="9.2" width="1.4" height="1.2"/><rect x="12.4" y="9.2" width="1.4" height="1.2"/></g></svg></span>
<span class="ic" style="left:19.0px;top:655.0px;width:18px;height:18px"><svg width="18" height="18" viewBox="0 0 18 18" style=""><path d="M6.2 1.2 H11.8 L10.4 4.2 H7.6 Z" fill="#fff" stroke="#fff" stroke-width="1" stroke-linejoin="round"/><path d="M7.2 5.2 C3.4 7.6 1.4 11 1.8 13.6 C2.1 15.6 3.6 16.6 5.6 16.6 H12.4 C14.4 16.6 15.9 15.6 16.2 13.6 C16.6 11 14.6 7.6 10.8 5.2 Z" fill="none" stroke="#fff" stroke-width="1.6" stroke-linejoin="round"/><text x="9" y="14.4" font-family="Liberation Sans, sans-serif" font-weight="700" font-size="8.5" text-anchor="middle" fill="#fff">$</text></svg></span>
<span class="ic" style="left:20.0px;top:692.0px;width:16px;height:18px"><svg width="16" height="18" viewBox="0 0 16 18" style=""><rect x="1.8" y="3.4" width="12.4" height="12.8" rx="2" fill="none" stroke="#fff" stroke-width="1.7"/><rect x="1.8" y="3.4" width="12.4" height="3.4" fill="#fff"/><rect x="4" y="0.8" width="1.9" height="4" rx=".9" fill="#fff"/><rect x="10.1" y="0.8" width="1.9" height="4" rx=".9" fill="#fff"/><rect x="4.4" y="9" width="4" height="4" rx=".5" fill="#fff"/></svg></span>
<div class="a" style="left:15px;top:745px;width:30px;height:30px;border-radius:50%;background:#3f42a8;color:#fff;font-size:17px;line-height:30px;text-align:center;-webkit-text-stroke:.4px #fff">M</div>
<span class="ic" style="left:20.0px;top:794.0px;width:20px;height:20px"><svg width="20" height="20" viewBox="0 0 20 20" style=""><circle cx="10" cy="10" r="8.2" fill="none" stroke="#fff" stroke-width="1.8"/><text x="10" y="14.4" font-family="Liberation Sans, sans-serif" font-weight="700" font-size="12" text-anchor="middle" fill="#fff">?</text></svg></span>
<span class="ic" style="left:10.5px;top:843.0px;width:16px;height:15px"><svg width="16" height="15" viewBox="0 0 18 16" style=""><path d="M16.5 2.2 C11 0.6 5 2.6 3.6 7.2 C3.2 8.8 3.4 10.2 4 11.4 L1.6 14.6 C4 14.6 5.2 14.2 6.2 13.6 C9.4 15 13.4 14.6 16.6 12.4" fill="none" stroke="#fff" stroke-width="1.6" stroke-linecap="round" stroke-linejoin="round"/></svg></span>
<div class="t b" style="left:25px;top:835px;font-size:11px;color:#fff">161</div>
<span class="ic" style="left:14.0px;top:887.0px;width:18px;height:20px"><svg width="18" height="20" viewBox="0 0 18 20" style=""><path d="M9.6 1.4 C6 2 4.6 4.8 4.6 8 C4.6 11.6 3.4 13.6 1.4 15.2 H16.4 C14.4 13.6 13.4 11.8 13.3 9.4" fill="none" stroke="#fff" stroke-width="1.6" stroke-linecap="round" stroke-linejoin="round"/><path d="M7.2 17.2 C7.6 18.4 10.2 18.4 10.6 17.2 Z" fill="#fff" stroke="#fff" stroke-width="1"/></svg></span>
<div class="t b" style="left:30px;top:881px;font-size:11px;color:#fff">4</div>
</div>
<div class="card"></div>
<div class="t" style="left:92px;top:14px;height:30px;line-height:30px;font-size:24px;font-weight:400;color:#3d404b;letter-spacing:1.1px;-webkit-text-stroke:1.1px #3d404b">Room Plan</div>
<span class="ic" style="left:303.0px;top:26.5px;width:14px;height:14px"><svg width="14" height="14" viewBox="0 0 14 14" style=""><circle cx="7" cy="7" r="7" fill="#6fa58d"/><path d="M4 7.2 L6.2 9.3 L10 5.2" fill="none" stroke="#fff" stroke-width="1.5" stroke-linecap="round" stroke-linejoin="round"/></svg></span>
<div class="t " style="left:325px;top:24px;font-size:14px;color:#80ab9c">Sync OK</div>
<div class="btn" style="left:396px;top:10px;width:36px;height:33px"></div>
<span class="ic" style="left:406.0px;top:19.5px;width:16px;height:15px"><svg width="16" height="15" viewBox="0 0 16 15" style=""><path d="M4 1.2 H12 V5 H4 Z" fill="none" stroke="#3a3d44" stroke-width="1.8" stroke-linejoin="round"/><rect x="0.8" y="5" width="14.4" height="6.6" rx="2" fill="#3a3d44"/><rect x="4" y="8.8" width="8" height="4.8" fill="#f9fafc" stroke="#3a3d44" stroke-width="1.6"/></svg></span>
<div class="btn" style="left:448px;top:10px;width:39px;height:33px;border:1.5px solid #2a6ea6;border-radius:4px"></div>
<div class="t b" style="left:457.5px;top:17.5px;font-size:14px;color:#2a6ea6">Aa</div>
<div class="btn" style="left:503px;top:10px;width:34px;height:33px"></div>
<span class="ic" style="left:513.0px;top:21.0px;width:14px;height:14px"><svg width="14" height="14" viewBox="0 0 14 14" style=""><path d="M2.6 1.6 H11.4 A1.2 1.2 0 0 1 12.6 2.8 V8.4 L8.6 12.4 H2.6 A1.2 1.2 0 0 1 1.4 11.2 V2.8 A1.2 1.2 0 0 1 2.6 1.6 Z" fill="none" stroke="#3a3d44" stroke-width="1.5" stroke-linejoin="round"/><path d="M12.6 8.4 H8.6 V12.4 Z" fill="#3a3d44"/><path d="M1.4 4 V10" stroke="#f9fafc" stroke-width="1" stroke-dasharray="1 1.2"/></svg></span>
<div class="btn" style="left:100px;top:61px;width:74px;height:33px;border-radius:5px"></div>
<span class="ic" style="left:111.0px;top:73.5px;width:10px;height:8px"><svg width="10" height="8" viewBox="0 0 10 8" style=""><path d="M0 0.8 H10 M2 4 H8 M4 7.2 H6" stroke="#2f3238" stroke-width="1.1" fill="none"/></svg></span>
<div class="t b" style="left:123.5px;top:68.3px;font-size:13.3px;color:#25272d">Filters</div>
<div class="t " style="left:385px;top:68px;font-size:14px;letter-spacing:.3px">Week</div>
<div class="car" style="left:426px;top:75px;border-top-color:#45484f;border-top-width:4.5px"></div>
<div class="t " style="left:449px;top:66.5px;font-size:15px;color:#2b2d33">«</div>
<div class="t " style="left:464px;top:66.5px;font-size:15px;color:#2b2d33">‹</div>
<div class="btn" style="left:474px;top:60px;width:139px;height:35px;border-radius:5px"></div>
<div class="t" style="left:479px;top:68px;font-size:14px;color:#2b2d33;letter-spacing:.5px"><b style="letter-spacing:-.35px">From:</b> 05/08/2025</div>
<div class="btn" style="left:625px;top:60px;width:129px;height:35px;border-radius:5px"></div>
<div class="t" style="left:630px;top:68px;font-size:14px;color:#2b2d33;letter-spacing:.75px"><b style="letter-spacing:-.3px">To:</b> 11/08/2025</div>
<div class="t " style="left:757px;top:66.5px;font-size:15px;color:#2b2d33">›</div>
<div class="t " style="left:770px;top:66.5px;font-size:15px;color:#2b2d33">»</div>
<div class="btn" style="left:783px;top:58px;width:117px;height:39px;border-radius:5px"></div>
<div class="a" style="left:787px;top:62px;width:51px;height:31px;background:#e4e6e6;border-radius:2px"></div>
<div class="t " style="left:792px;top:68px;font-size:14px;letter-spacing:.35px">Status</div>
<div class="t " style="left:843px;top:68px;font-size:14px;letter-spacing:.4px">Groups</div>
<div class="tbl"><div class="in">
<div class="t " style="left:111px;top:122px;font-size:14px;letter-spacing:.3px">Group By</div>
<div class="car" style="left:179px;top:129px;border-top-width:4.5px"></div>
<div class="vl" style="left:321px;top:106px;height:77px"></div>
<div class="t " style="left:325px;top:109.5px;font-size:14px;">August 2025</div>
<div class="hl" style="left:321px;top:133px;width:600px"></div>
<div class="a" style="left:663.0px;top:134px;width:170.3px;height:49px;background:#eef3f8"></div>
<div class="dn" style="left:321.2px;top:140px">Tue</div>
<div class="num" style="left:352.2px;top:154px">05</div>
<div class="dn" style="left:406.5px;top:140px">Wed</div>
<div class="num on" style="left:437.5px;top:154px">06</div>
<div class="vl" style="left:406px;top:134px;height:49px"></div>
<div class="dn" style="left:491.8px;top:140px">Thu</div>
<div class="num" style="left:522.8px;top:154px">07</div>
<div class="vl" style="left:492px;top:134px;height:49px"></div>
<div class="dn" style="left:577.2px;top:140px">Fri</div>
<div class="num" style="left:608.2px;top:154px">08</div>
<div class="vl" style="left:577px;top:134px;height:49px"></div>
<div class="dn we" style="left:662.5px;top:140px">Sat</div>
<div class="num we" style="left:693.5px;top:154px">09</div>
<div class="vl" style="left:662px;top:134px;height:49px"></div>
<div class="dn we" style="left:747.8px;top:140px">Sun</div>
<div class="num we" style="left:778.8px;top:154px">10</div>
<div class="vl" style="left:748px;top:134px;height:49px"></div>
<div class="dn" style="left:833.2px;top:140px">Mon</div>
<div class="num" style="left:864.2px;top:154px">11</div>
<div class="vl" style="left:833px;top:134px;height:49px"></div>
<div class="a" style="left:87px;top:183px;width:840px;height:10px;background:#a6c6db"></div>
<div class="a" style="left:87px;top:193px;width:11px;height:271px;background:#a6c6db"></div>
<div class="car" style="left:102px;top:203px"></div>
<div class="t b" style="left:118px;top:195.5px;font-size:13.5px;letter-spacing:0px">Budget Room</div>
<div class="hl2" style="left:98px;top:215px;width:223px"></div>
<div class="hl" style="left:321px;top:216px;width:600px"></div>
<div class="car" style="left:112px;top:227px"></div>
<div class="t b" style="left:123px;top:219px;font-size:13.6px;">Unassigned</div>
<div class="hl2" style="left:98px;top:239px;width:223px"></div>
<div class="hl" style="left:321px;top:240px;width:600px"></div>
<div class="a" style="left:98px;top:241px;width:830px;height:23px;background:#f6f8f8"></div>
<div class="vl" style="left:321px;top:241px;height:24px"></div>
<div class="hl2" style="left:98px;top:263px;width:223px"></div>
<div class="hl" style="left:321px;top:264px;width:600px"></div>
<div class="a" style="left:663.0px;top:265px;width:170.3px;height:198px;background:#eef3f8"></div>
<div class="vl" style="left:321px;top:265px;height:198px"></div>
<div class="vl" style="left:406px;top:265px;height:198px"></div>
<div class="vl" style="left:492px;top:265px;height:198px"></div>
<div class="vl" style="left:577px;top:265px;height:198px"></div>
<div class="vl" style="left:662px;top:265px;height:198px"></div>
<div class="vl" style="left:748px;top:265px;height:198px"></div>
<div class="vl" style="left:833px;top:265px;height:198px"></div>
<div class="t" style="left:118px;top:267.0px;font-size:14px">556-BR</div>
<span class="ic" style="left:170.5px;top:270.5px;width:16px;height:16px"><svg width="16" height="16" viewBox="0 0 16 16" style=""><path d="M14.6 1.2 L10.4 6" stroke="#3f7a5c" stroke-width="1.5" stroke-linecap="round" fill="none"/><path d="M7.8 4.4 L11.4 7.7 L6.9 15 L0.5 9 Z" fill="none" stroke="#3f7a5c" stroke-width="1.4" stroke-linejoin="round"/><path d="M7.8 4.4 L11.4 7.7 L10.3 9.6 L6.2 5.6 Z" fill="#3f7a5c"/><path d="M2.6 9.8 L4.6 10.2" stroke="#3f7a5c" stroke-width="1.2" fill="none"/></svg></span>
<div class="hl2" style="left:98px;top:288px;width:223px"></div>
<div class="hl" style="left:321px;top:289px;width:600px"></div>
<div class="bar " style="left:460px;top:269px;width:156px;background:#5893c4;padding-left:3.2px;"><svg width="15" height="12" viewBox="0 0 15 12" style=""><circle cx="5.2" cy="3.3" r="2.3" fill="none" stroke="#fff" stroke-width="1.2"/><path d="M1 11 C1 8.2 2.8 7 5.2 7 C7.6 7 9.4 8.2 9.4 11 Z" fill="none" stroke="#fff" stroke-width="1.2" stroke-linejoin="round"/><circle cx="10.6" cy="3.4" r="2.2" fill="#fff"/><path d="M9.6 6.6 C12.6 6.2 14.4 8 14.4 11 L10.8 11 C10.8 9 10.4 7.6 9.6 6.6 Z" fill="#fff"/></svg>Koller Family: Barry...</div>
<div class="t" style="left:118px;top:292.0px;font-size:14px">557-BR</div>
<span class="ic" style="left:170.5px;top:295.5px;width:16px;height:16px"><svg width="16" height="16" viewBox="0 0 16 16" style=""><path d="M14.6 1.2 L10.4 6" stroke="#3f7a5c" stroke-width="1.5" stroke-linecap="round" fill="none"/><path d="M7.8 4.4 L11.4 7.7 L6.9 15 L0.5 9 Z" fill="none" stroke="#3f7a5c" stroke-width="1.4" stroke-linejoin="round"/><path d="M7.8 4.4 L11.4 7.7 L10.3 9.6 L6.2 5.6 Z" fill="#3f7a5c"/><path d="M2.6 9.8 L4.6 10.2" stroke="#3f7a5c" stroke-width="1.2" fill="none"/></svg></span>
<div class="hl2" style="left:98px;top:313px;width:223px"></div>
<div class="hl" style="left:321px;top:314px;width:600px"></div>
<div class="bar " style="left:460px;top:294px;width:156px;background:#52a45a;padding-left:3.2px;"><svg width="15" height="12" viewBox="0 0 15 12" style=""><circle cx="5.2" cy="3.3" r="2.3" fill="none" stroke="#fff" stroke-width="1.2"/><path d="M1 11 C1 8.2 2.8 7 5.2 7 C7.6 7 9.4 8.2 9.4 11 Z" fill="none" stroke="#fff" stroke-width="1.2" stroke-linejoin="round"/><circle cx="10.6" cy="3.4" r="2.2" fill="#fff"/><path d="M9.6 6.6 C12.6 6.2 14.4 8 14.4 11 L10.8 11 C10.8 9 10.4 7.6 9.6 6.6 Z" fill="#fff"/></svg>Koller Family: Gene...</div>
<div class="t" style="left:118px;top:317.0px;font-size:14px">558-BR</div>
<span class="ic" style="left:170.5px;top:320.5px;width:16px;height:16px"><svg width="16" height="16" viewBox="0 0 16 16" style=""><path d="M14.6 1.2 L10.4 6" stroke="#3f7a5c" stroke-width="1.5" stroke-linecap="round" fill="none"/><path d="M7.8 4.4 L11.4 7.7 L6.9 15 L0.5 9 Z" fill="none" stroke="#3f7a5c" stroke-width="1.4" stroke-linejoin="round"/><path d="M7.8 4.4 L11.4 7.7 L10.3 9.6 L6.2 5.6 Z" fill="#3f7a5c"/><path d="M2.6 9.8 L4.6 10.2" stroke="#3f7a5c" stroke-width="1.2" fill="none"/></svg></span>
<div class="hl2" style="left:98px;top:338px;width:223px"></div>
<div class="hl" style="left:321px;top:339px;width:600px"></div>
<div class="bar " style="left:460px;top:319px;width:156px;background:#5893c4;padding-left:3.2px;"><svg width="15" height="12" viewBox="0 0 15 12" style=""><circle cx="5.2" cy="3.3" r="2.3" fill="none" stroke="#fff" stroke-width="1.2"/><path d="M1 11 C1 8.2 2.8 7 5.2 7 C7.6 7 9.4 8.2 9.4 11 Z" fill="none" stroke="#fff" stroke-width="1.2" stroke-linejoin="round"/><circle cx="10.6" cy="3.4" r="2.2" fill="#fff"/><path d="M9.6 6.6 C12.6 6.2 14.4 8 14.4 11 L10.8 11 C10.8 9 10.4 7.6 9.6 6.6 Z" fill="#fff"/></svg>Koller Family: Miss ...</div>
<div class="t" style="left:118px;top:342.0px;font-size:14px">559-BR</div>
<span class="ic" style="left:170.5px;top:345.5px;width:16px;height:16px"><svg width="16" height="16" viewBox="0 0 16 16" style=""><path d="M14.6 1.2 L10.4 6" stroke="#3f7a5c" stroke-width="1.5" stroke-linecap="round" fill="none"/><path d="M7.8 4.4 L11.4 7.7 L6.9 15 L0.5 9 Z" fill="none" stroke="#3f7a5c" stroke-width="1.4" stroke-linejoin="round"/><path d="M7.8 4.4 L11.4 7.7 L10.3 9.6 L6.2 5.6 Z" fill="#3f7a5c"/><path d="M2.6 9.8 L4.6 10.2" stroke="#3f7a5c" stroke-width="1.2" fill="none"/></svg></span>
<div class="hl2" style="left:98px;top:363px;width:223px"></div>
<div class="hl" style="left:321px;top:364px;width:600px"></div>
<div class="bar " style="left:460px;top:344px;width:156px;background:#52a45a;padding-left:3.2px;"><svg width="15" height="12" viewBox="0 0 15 12" style=""><circle cx="5.2" cy="3.3" r="2.3" fill="none" stroke="#fff" stroke-width="1.2"/><path d="M1 11 C1 8.2 2.8 7 5.2 7 C7.6 7 9.4 8.2 9.4 11 Z" fill="none" stroke="#fff" stroke-width="1.2" stroke-linejoin="round"/><circle cx="10.6" cy="3.4" r="2.2" fill="#fff"/><path d="M9.6 6.6 C12.6 6.2 14.4 8 14.4 11 L10.8 11 C10.8 9 10.4 7.6 9.6 6.6 Z" fill="#fff"/></svg>Koller Family: Marc...</div>
<div class="t" style="left:118px;top:367.0px;font-size:14px">560-BR</div>
<span class="ic" style="left:170.5px;top:370.5px;width:16px;height:16px"><svg width="16" height="16" viewBox="0 0 16 16" style=""><path d="M14.6 1.2 L10.4 6" stroke="#3f7a5c" stroke-width="1.5" stroke-linecap="round" fill="none"/><path d="M7.8 4.4 L11.4 7.7 L6.9 15 L0.5 9 Z" fill="none" stroke="#3f7a5c" stroke-width="1.4" stroke-linejoin="round"/><path d="M7.8 4.4 L11.4 7.7 L10.3 9.6 L6.2 5.6 Z" fill="#3f7a5c"/><path d="M2.6 9.8 L4.6 10.2" stroke="#3f7a5c" stroke-width="1.2" fill="none"/></svg></span>
<div class="hl2" style="left:98px;top:388px;width:223px"></div>
<div class="hl" style="left:321px;top:389px;width:600px"></div>
<div class="bar " style="left:460px;top:369px;width:156px;background:#5893c4;padding-left:3.2px;"><svg width="15" height="12" viewBox="0 0 15 12" style=""><circle cx="5.2" cy="3.3" r="2.3" fill="none" stroke="#fff" stroke-width="1.2"/><path d="M1 11 C1 8.2 2.8 7 5.2 7 C7.6 7 9.4 8.2 9.4 11 Z" fill="none" stroke="#fff" stroke-width="1.2" stroke-linejoin="round"/><circle cx="10.6" cy="3.4" r="2.2" fill="#fff"/><path d="M9.6 6.6 C12.6 6.2 14.4 8 14.4 11 L10.8 11 C10.8 9 10.4 7.6 9.6 6.6 Z" fill="#fff"/></svg>Koller Family: Jessi...</div>
<div class="bar hot" style="left:715px;top:369px;width:157px;background:#828282;">Alex Bergamo</div>
<div class="t" style="left:118px;top:391.5px;font-size:14px">561-BR</div>
<span class="ic" style="left:170.5px;top:395.0px;width:16px;height:16px"><svg width="16" height="16" viewBox="0 0 16 16" style=""><path d="M14.6 1.2 L10.4 6" stroke="#3f7a5c" stroke-width="1.5" stroke-linecap="round" fill="none"/><path d="M7.8 4.4 L11.4 7.7 L6.9 15 L0.5 9 Z" fill="none" stroke="#3f7a5c" stroke-width="1.4" stroke-linejoin="round"/><path d="M7.8 4.4 L11.4 7.7 L10.3 9.6 L6.2 5.6 Z" fill="#3f7a5c"/><path d="M2.6 9.8 L4.6 10.2" stroke="#3f7a5c" stroke-width="1.2" fill="none"/></svg></span>
<div class="hl2" style="left:98px;top:412px;width:223px"></div>
<div class="hl" style="left:321px;top:413px;width:600px"></div>
<div class="t" style="left:118px;top:416.0px;font-size:14px">562-BR</div>
<span class="ic" style="left:170.5px;top:419.5px;width:16px;height:16px"><svg width="16" height="16" viewBox="0 0 16 16" style=""><path d="M14.6 1.2 L10.4 6" stroke="#3f7a5c" stroke-width="1.5" stroke-linecap="round" fill="none"/><path d="M7.8 4.4 L11.4 7.7 L6.9 15 L0.5 9 Z" fill="none" stroke="#3f7a5c" stroke-width="1.4" stroke-linejoin="round"/><path d="M7.8 4.4 L11.4 7.7 L10.3 9.6 L6.2 5.6 Z" fill="#3f7a5c"/><path d="M2.6 9.8 L4.6 10.2" stroke="#3f7a5c" stroke-width="1.2" fill="none"/></svg></span>
<div class="hl2" style="left:98px;top:437px;width:223px"></div>
<div class="hl" style="left:321px;top:438px;width:600px"></div>
<div class="bar " style="left:374px;top:418px;width:71px;background:#6b60be;">Karin St...</div>
<div class="t" style="left:118px;top:441.0px;font-size:14px">563-BR</div>
<span class="ic" style="left:170.5px;top:444.5px;width:16px;height:16px"><svg width="16" height="16" viewBox="0 0 16 16" style=""><path d="M14.6 1.2 L10.4 6" stroke="#3f7a5c" stroke-width="1.5" stroke-linecap="round" fill="none"/><path d="M7.8 4.4 L11.4 7.7 L6.9 15 L0.5 9 Z" fill="none" stroke="#3f7a5c" stroke-width="1.4" stroke-linejoin="round"/><path d="M7.8 4.4 L11.4 7.7 L10.3 9.6 L6.2 5.6 Z" fill="#3f7a5c"/><path d="M2.6 9.8 L4.6 10.2" stroke="#3f7a5c" stroke-width="1.2" fill="none"/></svg></span>
<div class="hl2" style="left:98px;top:462px;width:223px"></div>
<div class="hl" style="left:321px;top:463px;width:600px"></div>
<div class="bar " style="left:545px;top:443px;width:242px;background:#828282;">Porçeßet Mänùèlle</div>
<div class="a" style="left:87px;top:464px;width:840px;height:10px;background:#d4e2ed"></div>
<div class="a" style="left:87px;top:474px;width:11px;height:220px;background:#d4e2ed"></div>
<div class="car" style="left:102px;top:484px"></div>
<div class="t b" style="left:118px;top:476.5px;font-size:13.5px;letter-spacing:0px">Deluxe Room</div>
<div class="hl2" style="left:98px;top:496px;width:223px"></div>
<div class="hl" style="left:321px;top:497px;width:600px"></div>
<div class="car" style="left:112px;top:508px"></div>
<div class="t b" style="left:123px;top:500px;font-size:13.6px;">Unassigned</div>
<div class="hl2" style="left:98px;top:520px;width:223px"></div>
<div class="hl" style="left:321px;top:521px;width:600px"></div>
<div class="a" style="left:98px;top:522px;width:830px;height:46px;background:#f6f8f8"></div>
<div class="vl" style="left:321px;top:522px;height:47px"></div>
<div class="hl2" style="left:98px;top:567px;width:223px"></div>
<div class="hl" style="left:321px;top:568px;width:600px"></div>
<div class="bar " style="left:374px;top:526px;width:71px;background:#5893c4;">Al-Kaye...</div>
<div class="bar " style="left:456px;top:526px;width:164px;background:#5893c4;padding-left:3.2px;"><svg width="15" height="12" viewBox="0 0 15 12" style=""><circle cx="5.2" cy="3.3" r="2.3" fill="none" stroke="#fff" stroke-width="1.2"/><path d="M1 11 C1 8.2 2.8 7 5.2 7 C7.6 7 9.4 8.2 9.4 11 Z" fill="none" stroke="#fff" stroke-width="1.2" stroke-linejoin="round"/><circle cx="10.6" cy="3.4" r="2.2" fill="#fff"/><path d="M9.6 6.6 C12.6 6.2 14.4 8 14.4 11 L10.8 11 C10.8 9 10.4 7.6 9.6 6.6 Z" fill="#fff"/></svg>summary report: Am...</div>
<div class="bar " style="left:460px;top:548px;width:241px;background:#5893c4;padding-left:3.2px;"><svg class="s" width="14.5" height="14.5" viewBox="0 0 24 24" style=""><path d="M12 1.5l3.2 6.9 7.5.9-5.6 5.1 1.5 7.4L12 18.1 5.4 21.8l1.5-7.4L1.3 9.3l7.5-.9z" fill="#f6d45c"/></svg><svg width="15" height="12" viewBox="0 0 15 12" style=""><circle cx="5.2" cy="3.3" r="2.3" fill="none" stroke="#fff" stroke-width="1.2"/><path d="M1 11 C1 8.2 2.8 7 5.2 7 C7.6 7 9.4 8.2 9.4 11 Z" fill="none" stroke="#fff" stroke-width="1.2" stroke-linejoin="round"/><circle cx="10.6" cy="3.4" r="2.2" fill="#fff"/><path d="M9.6 6.6 C12.6 6.2 14.4 8 14.4 11 L10.8 11 C10.8 9 10.4 7.6 9.6 6.6 Z" fill="#fff"/></svg>Alex Muller</div>
<div class="a" style="left:663.0px;top:569px;width:170.3px;height:124px;background:#eef3f8"></div>
<div class="vl" style="left:321px;top:569px;height:124px"></div>
<div class="vl" style="left:406px;top:569px;height:124px"></div>
<div class="vl" style="left:492px;top:569px;height:124px"></div>
<div class="vl" style="left:577px;top:569px;height:124px"></div>
<div class="vl" style="left:662px;top:569px;height:124px"></div>
<div class="vl" style="left:748px;top:569px;height:124px"></div>
<div class="vl" style="left:833px;top:569px;height:124px"></div>
<div class="t" style="left:118px;top:571.0px;font-size:14px">087-PRK</div>
<span class="ic" style="left:179.5px;top:574.5px;width:16px;height:16px"><svg width="16" height="16" viewBox="0 0 16 16" style=""><path d="M14.6 1.2 L10.4 6" stroke="#3f7a5c" stroke-width="1.5" stroke-linecap="round" fill="none"/><path d="M7.8 4.4 L11.4 7.7 L6.9 15 L0.5 9 Z" fill="none" stroke="#3f7a5c" stroke-width="1.4" stroke-linejoin="round"/><path d="M7.8 4.4 L11.4 7.7 L10.3 9.6 L6.2 5.6 Z" fill="#3f7a5c"/><path d="M2.6 9.8 L4.6 10.2" stroke="#3f7a5c" stroke-width="1.2" fill="none"/></svg></span>
<div class="hl2" style="left:98px;top:592px;width:223px"></div>
<div class="hl" style="left:321px;top:593px;width:600px"></div>
<div class="bar " style="left:322px;top:573px;width:38px;background:#6b60be;padding-left:3.2px;border-top-left-radius:0;border-bottom-left-radius:0;padding-left:2px;"><svg width="15" height="12" viewBox="0 0 15 12" style=""><circle cx="5.2" cy="3.3" r="2.3" fill="none" stroke="#fff" stroke-width="1.2"/><path d="M1 11 C1 8.2 2.8 7 5.2 7 C7.6 7 9.4 8.2 9.4 11 Z" fill="none" stroke="#fff" stroke-width="1.2" stroke-linejoin="round"/><circle cx="10.6" cy="3.4" r="2.2" fill="#fff"/><path d="M9.6 6.6 C12.6 6.2 14.4 8 14.4 11 L10.8 11 C10.8 9 10.4 7.6 9.6 6.6 Z" fill="#fff"/></svg>Gro</div>
<div class="t" style="left:118px;top:596.0px;font-size:14px">110-PRK</div>
<span class="ic" style="left:179.5px;top:599.5px;width:16px;height:16px"><svg width="16" height="16" viewBox="0 0 16 16" style=""><path d="M14.6 1.2 L10.4 6" stroke="#3f7a5c" stroke-width="1.5" stroke-linecap="round" fill="none"/><path d="M7.8 4.4 L11.4 7.7 L6.9 15 L0.5 9 Z" fill="none" stroke="#3f7a5c" stroke-width="1.4" stroke-linejoin="round"/><path d="M7.8 4.4 L11.4 7.7 L10.3 9.6 L6.2 5.6 Z" fill="#3f7a5c"/><path d="M2.6 9.8 L4.6 10.2" stroke="#3f7a5c" stroke-width="1.2" fill="none"/></svg></span>
<div class="hl2" style="left:98px;top:617px;width:223px"></div>
<div class="hl" style="left:321px;top:618px;width:600px"></div>
<div class="bar " style="left:385px;top:598px;width:60px;background:#52a45a;padding-left:3.2px;"><svg class="s" width="14.5" height="14.5" viewBox="0 0 24 24" style=""><path d="M12 1.5l3.2 6.9 7.5.9-5.6 5.1 1.5 7.4L12 18.1 5.4 21.8l1.5-7.4L1.3 9.3l7.5-.9z" fill="#f6d45c"/></svg><svg width="15" height="12" viewBox="0 0 15 12" style=""><circle cx="5.2" cy="3.3" r="2.3" fill="none" stroke="#fff" stroke-width="1.2"/><path d="M1 11 C1 8.2 2.8 7 5.2 7 C7.6 7 9.4 8.2 9.4 11 Z" fill="none" stroke="#fff" stroke-width="1.2" stroke-linejoin="round"/><circle cx="10.6" cy="3.4" r="2.2" fill="#fff"/><path d="M9.6 6.6 C12.6 6.2 14.4 8 14.4 11 L10.8 11 C10.8 9 10.4 7.6 9.6 6.6 Z" fill="#fff"/></svg><svg width="14" height="12" viewBox="0 0 14 12" style=""><path d="M1 4.2h6V1.2l6 4.8-6 4.8V7.8H1z" fill="none" stroke="#fff" stroke-width="1.3" stroke-linejoin="round"/></svg>G</div>
<div class="t" style="left:118px;top:621.0px;font-size:14px">112-PRK</div>
<span class="ic" style="left:179.5px;top:624.5px;width:16px;height:16px"><svg width="16" height="16" viewBox="0 0 16 16" style=""><path d="M14.6 1.2 L10.4 6" stroke="#e0a437" stroke-width="1.5" stroke-linecap="round" fill="none"/><path d="M7.8 4.4 L11.4 7.7 L6.9 15 L0.5 9 Z" fill="none" stroke="#e0a437" stroke-width="1.4" stroke-linejoin="round"/><path d="M7.8 4.4 L11.4 7.7 L10.3 9.6 L6.2 5.6 Z" fill="#e0a437"/><path d="M2.6 9.8 L4.6 10.2" stroke="#e0a437" stroke-width="1.2" fill="none"/></svg></span>
<div class="hl2" style="left:98px;top:642px;width:223px"></div>
<div class="hl" style="left:321px;top:643px;width:600px"></div>
<div class="bar " style="left:322px;top:623px;width:130px;background:#828282;padding-left:3.2px;border-top-left-radius:0;border-bottom-left-radius:0;padding-left:2px;"><svg width="14" height="12" viewBox="0 0 14 12" style=""><path d="M13 4.2H7V1.2L1 6l6 4.8V7.8h6z" fill="none" stroke="#fff" stroke-width="1.3" stroke-linejoin="round"/></svg>Artem S</div>
<div class="bar " style="left:460px;top:623px;width:71px;background:#52a45a;">Miss Ma...</div>
<div class="t" style="left:118px;top:646.0px;font-size:14px">113-PRK</div>
<span class="ic" style="left:179.5px;top:649.5px;width:16px;height:16px"><svg width="16" height="16" viewBox="0 0 16 16" style=""><path d="M14.6 1.2 L10.4 6" stroke="#3f7a5c" stroke-width="1.5" stroke-linecap="round" fill="none"/><path d="M7.8 4.4 L11.4 7.7 L6.9 15 L0.5 9 Z" fill="none" stroke="#3f7a5c" stroke-width="1.4" stroke-linejoin="round"/><path d="M7.8 4.4 L11.4 7.7 L10.3 9.6 L6.2 5.6 Z" fill="#3f7a5c"/><path d="M2.6 9.8 L4.6 10.2" stroke="#3f7a5c" stroke-width="1.2" fill="none"/></svg></span>
<div class="hl2" style="left:98px;top:667px;width:223px"></div>
<div class="hl" style="left:321px;top:668px;width:600px"></div>
<div class="bar " style="left:322px;top:648px;width:63px;background:#52a45a;padding-left:3.2px;border-top-left-radius:0;border-bottom-left-radius:0;padding-left:2px;"><svg class="s" width="14.5" height="14.5" viewBox="0 0 24 24" style=""><path d="M12 1.5l3.2 6.9 7.5.9-5.6 5.1 1.5 7.4L12 18.1 5.4 21.8l1.5-7.4L1.3 9.3l7.5-.9z" fill="#f6d45c"/></svg><svg width="15" height="12" viewBox="0 0 15 12" style=""><circle cx="5.2" cy="3.3" r="2.3" fill="none" stroke="#fff" stroke-width="1.2"/><path d="M1 11 C1 8.2 2.8 7 5.2 7 C7.6 7 9.4 8.2 9.4 11 Z" fill="none" stroke="#fff" stroke-width="1.2" stroke-linejoin="round"/><circle cx="10.6" cy="3.4" r="2.2" fill="#fff"/><path d="M9.6 6.6 C12.6 6.2 14.4 8 14.4 11 L10.8 11 C10.8 9 10.4 7.6 9.6 6.6 Z" fill="#fff"/></svg><svg width="14" height="12" viewBox="0 0 14 12" style=""><path d="M13 4.2H7V1.2L1 6l6 4.8V7.8h6z" fill="none" stroke="#fff" stroke-width="1.3" stroke-linejoin="round"/></svg>Gr</div>
<div class="t" style="left:118px;top:671.0px;font-size:14px">256-PRK</div>
<span class="ic" style="left:179.5px;top:674.5px;width:16px;height:16px"><svg width="16" height="16" viewBox="0 0 16 16" style=""><path d="M14.6 1.2 L10.4 6" stroke="#b85a2e" stroke-width="1.5" stroke-linecap="round" fill="none"/><path d="M7.8 4.4 L11.4 7.7 L6.9 15 L0.5 9 Z" fill="none" stroke="#b85a2e" stroke-width="1.4" stroke-linejoin="round"/><path d="M7.8 4.4 L11.4 7.7 L10.3 9.6 L6.2 5.6 Z" fill="#b85a2e"/><path d="M2.6 9.8 L4.6 10.2" stroke="#b85a2e" stroke-width="1.2" fill="none"/></svg></span>
<div class="hl2" style="left:98px;top:692px;width:223px"></div>
<div class="hl" style="left:321px;top:693px;width:600px"></div>
<div class="bar " style="left:374px;top:673px;width:157px;background:#5893c4;">Amelie Prickwell</div>
<div class="a" style="left:87px;top:694px;width:840px;height:10px;background:#a6c6db"></div>
<div class="a" style="left:87px;top:704px;width:11px;height:72px;background:#a6c6db"></div>
<div class="car" style="left:102px;top:714px"></div>
<div class="t b" style="left:118px;top:706.5px;font-size:13.5px;letter-spacing:0.18px">DZ (Doppelzimmer Standard)</div>
<div class="hl2" style="left:98px;top:726px;width:223px"></div>
<div class="hl" style="left:321px;top:727px;width:600px"></div>
<div class="car" style="left:112px;top:738px"></div>
<div class="t b" style="left:123px;top:730px;font-size:13.6px;">Unassigned</div>
<div class="hl2" style="left:98px;top:750px;width:223px"></div>
<div class="hl" style="left:321px;top:751px;width:600px"></div>
<div class="a" style="left:98px;top:752px;width:830px;height:23px;background:#f6f8f8"></div>
<div class="vl" style="left:321px;top:752px;height:24px"></div>
<div class="hl2" style="left:98px;top:774px;width:223px"></div>
<div class="hl" style="left:321px;top:775px;width:600px"></div>
<div class="a" style="left:87px;top:776px;width:840px;height:10px;background:#d4e2ed"></div>
<div class="a" style="left:87px;top:786px;width:11px;height:136px;background:#d4e2ed"></div>
<div class="car" style="left:102px;top:796px"></div>
<div class="t b" style="left:118px;top:788.5px;font-size:13.5px;letter-spacing:0px">Eugenia Room</div>
<div class="hl2" style="left:98px;top:808px;width:223px"></div>
<div class="hl" style="left:321px;top:809px;width:600px"></div>
<div class="car" style="left:112px;top:820px"></div>
<div class="t b" style="left:123px;top:812px;font-size:13.6px;">Unassigned</div>
<div class="hl2" style="left:98px;top:832px;width:223px"></div>
<div class="hl" style="left:321px;top:833px;width:600px"></div>
<div class="a" style="left:98px;top:834px;width:830px;height:24px;background:#f6f8f8"></div>
<div class="vl" style="left:321px;top:834px;height:25px"></div>
<div class="hl2" style="left:98px;top:857px;width:223px"></div>
<div class="hl" style="left:321px;top:858px;width:600px"></div>
<div class="bar " style="left:374px;top:838px;width:71px;background:#828282;">Amelia ...</div>
<div class="bar " style="left:541px;top:838px;width:160px;background:#5893c4;padding-left:3.2px;"><svg width="15" height="12" viewBox="0 0 15 12" style=""><circle cx="5.2" cy="3.3" r="2.3" fill="none" stroke="#fff" stroke-width="1.2"/><path d="M1 11 C1 8.2 2.8 7 5.2 7 C7.6 7 9.4 8.2 9.4 11 Z" fill="none" stroke="#fff" stroke-width="1.2" stroke-linejoin="round"/><circle cx="10.6" cy="3.4" r="2.2" fill="#fff"/><path d="M9.6 6.6 C12.6 6.2 14.4 8 14.4 11 L10.8 11 C10.8 9 10.4 7.6 9.6 6.6 Z" fill="#fff"/></svg>summary report: Am...</div>
<div class="a" style="left:663.0px;top:859px;width:170.3px;height:62px;background:#eef3f8"></div>
<div class="vl" style="left:321px;top:859px;height:62px"></div>
<div class="vl" style="left:406px;top:859px;height:62px"></div>
<div class="vl" style="left:492px;top:859px;height:62px"></div>
<div class="vl" style="left:577px;top:859px;height:62px"></div>
<div class="vl" style="left:662px;top:859px;height:62px"></div>
<div class="vl" style="left:748px;top:859px;height:62px"></div>
<div class="vl" style="left:833px;top:859px;height:62px"></div>
<div class="t" style="left:118px;top:861.0px;font-size:14px">162-ER</div>
<span class="ic" style="left:169.5px;top:864.5px;width:16px;height:16px"><svg width="16" height="16" viewBox="0 0 16 16" style=""><path d="M14.6 1.2 L10.4 6" stroke="#3f7a5c" stroke-width="1.5" stroke-linecap="round" fill="none"/><path d="M7.8 4.4 L11.4 7.7 L6.9 15 L0.5 9 Z" fill="none" stroke="#3f7a5c" stroke-width="1.4" stroke-linejoin="round"/><path d="M7.8 4.4 L11.4 7.7 L10.3 9.6 L6.2 5.6 Z" fill="#3f7a5c"/><path d="M2.6 9.8 L4.6 10.2" stroke="#3f7a5c" stroke-width="1.2" fill="none"/></svg></span>
<div class="hl2" style="left:98px;top:882px;width:223px"></div>
<div class="hl" style="left:321px;top:883px;width:600px"></div>
<div class="bar " style="left:322px;top:863px;width:38px;background:#52a45a;border-top-left-radius:0;border-bottom-left-radius:0;padding-left:2px;">Alex B</div>
<div class="t" style="left:118px;top:886.0px;font-size:14px">163-ER</div>
<span class="ic" style="left:169.5px;top:889.5px;width:16px;height:16px"><svg width="16" height="16" viewBox="0 0 16 16" style=""><path d="M14.6 1.2 L10.4 6" stroke="#b85a2e" stroke-width="1.5" stroke-linecap="round" fill="none"/><path d="M7.8 4.4 L11.4 7.7 L6.9 15 L0.5 9 Z" fill="none" stroke="#b85a2e" stroke-width="1.4" stroke-linejoin="round"/><path d="M7.8 4.4 L11.4 7.7 L10.3 9.6 L6.2 5.6 Z" fill="#b85a2e"/><path d="M2.6 9.8 L4.6 10.2" stroke="#b85a2e" stroke-width="1.2" fill="none"/></svg></span>
<div class="hl2" style="left:98px;top:907px;width:223px"></div>
<div class="hl" style="left:321px;top:908px;width:600px"></div>
<div class="bar ooo" style="left:322px;top:888px;width:170px;height:18px;background:#fbe9eb;border:1px solid #c9d6f3;border-left:none;border-radius:0 2px 2px 0;color:#787d7b;padding-left:2px;line-height:16px;letter-spacing:.4px"><svg style=vertical-align:-2px;margin-right:4px width="15" height="13" viewBox="0 0 15 13" style=""><path d="M7.5 0.8 L14.4 12.4 H0.6 Z" fill="#eca66f" stroke="#eca66f" stroke-width="0.8" stroke-linejoin="round"/><rect x="6.8" y="4.2" width="1.4" height="4.6" fill="#fdf3cc"/><rect x="6.8" y="9.7" width="1.4" height="1.5" fill="#fdf3cc"/></svg>Out of order</div>
<div class="hl2" style="left:98px;top:932px;width:223px"></div>
<div class="hl" style="left:321px;top:933px;width:600px"></div>
</div></div>
</div>
<div class="a" style="left:1050px;top:195px;width:2px;height:62px;background:#727b84;border-radius:1px"></div>
</body></html>
